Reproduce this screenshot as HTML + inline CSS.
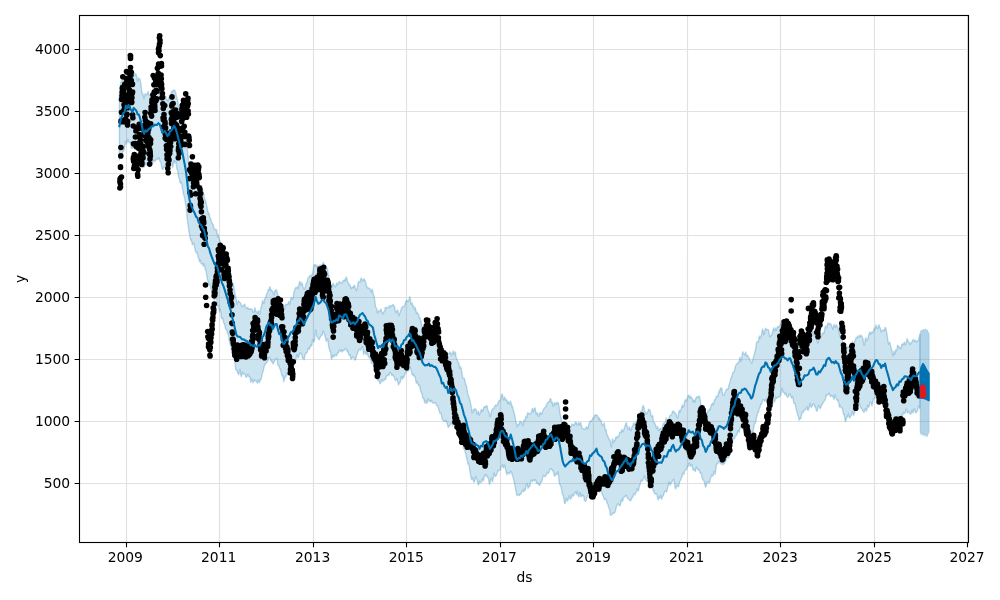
<!DOCTYPE html>
<html lang="en"><head><meta charset="utf-8"><title>Forecast plot</title>
<style>
html,body{margin:0;padding:0;background:#fff;}
body{width:1000px;height:600px;overflow:hidden;}
svg{display:block;}
text{font-family:"DejaVu Sans","Liberation Sans",sans-serif;font-size:13.89px;fill:#000;}
</style></head><body>
<svg width="1000" height="600" viewBox="0 0 1000 600">
<rect width="1000" height="600" fill="#fff"/>
<defs><clipPath id="c"><rect x="79.5" y="15.5" width="889.0" height="527.0"/></clipPath></defs>

<g clip-path="url(#c)">
<path d="M119.4 92.7 120 88.3 120.6 83.2 121.2 81.1 121.8 81.4 122.4 80.3 123 78.7 123.6 77.5 124.2 76.7 124.8 73.9 125.4 73.3 126 74 126.6 75 127.2 74.2 127.8 70.6 128.4 69.4 129 69.3 129.6 72.3 130.2 73.7 130.8 71.9 131.4 73.7 132 77.7 132.6 78.1 133.2 74.1 133.8 72.1 134.4 74.2 135 75.1 135.6 73.7 136.2 74.4 136.8 77.5 137.4 81.4 138 80.1 138.6 77.8 139.2 79.4 139.8 79 140.4 81 141 85 141.6 89.9 142.2 93.7 142.8 93.4 143.4 96.3 144 98.6 144.6 95.2 145.2 93.8 145.8 94.7 146.4 94.3 147 94.7 147.6 92.5 148.2 91.5 148.8 94.4 149.4 95.2 150 95.2 150.6 95.4 151.2 95.2 151.8 92.2 152.4 91.3 153 90.3 153.6 88.3 154.2 87.8 154.8 89.3 155.4 92.7 156 91.2 156.6 91.6 157.2 90.9 157.8 88.6 158.4 88.9 159 87.7 159.6 88.5 160.2 93.6 160.8 94 161.4 94.9 162 97.9 162.6 99.9 163.2 100.1 163.8 98.3 164.4 98 165 97.1 165.6 96.3 166.2 99 166.8 100.5 167.4 99.7 168 101 168.6 98.8 169.2 96.9 169.8 97.5 170.4 96.7 171 94.5 171.6 91.3 172.2 90.6 172.8 92 173.4 91.3 174 89.6 174.6 90.3 175.2 91.2 175.8 92.9 176.4 96.5 177 98.2 177.6 99.7 178.2 105.3 178.8 108.7 179.4 107 180 108.2 180.6 112.4 181.2 115.1 181.8 116 182.4 116.9 183 118.9 183.6 123.3 184.2 127.5 184.8 129.6 185.4 132.5 186 136.4 186.6 142.4 187.2 147.3 187.8 152.6 188.4 159.7 189 164.3 189.6 165 190.2 167.6 190.8 169.5 191.4 170.1 192 171.6 192.6 170.7 193.2 173.2 193.8 176.8 194.4 177.6 195 178.8 195.6 179.7 196.2 179.9 196.8 181.4 197.4 185.2 198 188 198.6 186.9 199.2 187.6 199.8 188.4 200.4 188.1 201 190.4 201.6 191.3 202.2 189.7 202.8 190.4 203.4 193.2 204 195.3 204.6 198.7 205.2 199.8 205.8 201.3 206.4 204.9 207 206.8 207.6 210.1 208.2 213 208.8 212.9 209.4 215.6 210 217.7 210.6 218.2 211.2 221 211.8 222.8 212.4 223.4 213 224.3 213.6 226.3 214.2 228.8 214.8 229.2 215.4 229.2 216 230.6 216.6 229.7 217.2 234 217.8 237.1 218.4 234.4 219 238.1 219.6 240.6 220.2 241.1 220.8 244.9 221.4 245.7 222 246.2 222.6 247.9 223.2 249.8 223.8 250.4 224.4 250.9 225 254.4 225.6 258.8 226.2 261.6 226.8 264.2 227.4 266.1 228 265.5 228.6 266.8 229.2 267.5 229.8 269 230.4 272.3 231 275.9 231.6 280.2 232.2 282 232.8 283.1 233.4 284.4 234 287.3 234.6 291.9 235.2 295.2 235.8 296.5 236.4 300.6 237 304.3 237.6 302.6 238.2 301 238.8 300.9 239.4 301.9 240 302.5 240.6 303.3 241.2 304.8 241.8 306.2 242.4 306.9 243 305.5 243.6 304.9 244.2 304.8 244.8 304.2 245.4 307.1 246 307.5 246.6 307.8 247.2 308.4 247.8 307.2 248.4 309.2 249 309 249.6 308.6 250.2 309.1 250.8 308.9 251.4 309.1 252 309.1 252.6 311.5 253.2 312.4 253.8 312.5 254.4 309.4 255 307.7 255.6 311.6 256.2 311.5 256.8 312.2 257.4 313.2 258 311.2 258.6 310.7 259.2 314.3 259.8 314.2 260.4 310.2 261 307.8 261.6 305.6 262.2 302.5 262.8 300.5 263.4 303.2 264 303.1 264.6 299.6 265.2 297.9 265.8 297.2 266.4 294.7 267 293.6 267.6 292.7 268.2 289.7 268.8 290.3 269.4 288.2 270 286.6 270.6 290 271.2 289.8 271.8 290.1 272.4 291.7 273 291.9 273.6 294.5 274.2 294.9 274.8 290.7 275.4 290.4 276 289.7 276.6 290.1 277.2 292.7 277.8 295.7 278.4 295.6 279 296.5 279.6 299.5 280.2 298 280.8 300.1 281.4 302.7 282 305.5 282.6 308.6 283.2 309.2 283.8 309.5 284.4 309.6 285 306.3 285.6 304.1 286.2 304.8 286.8 304.6 287.4 304.5 288 303.7 288.6 301.7 289.2 302.1 289.8 304.5 290.4 301.2 291 297.6 291.6 297.7 292.2 298.6 292.8 299.4 293.4 295.7 294 291.7 294.6 290.4 295.2 288.8 295.8 287.4 296.4 288 297 287.1 297.6 287 298.2 288.7 298.8 285.4 299.4 282.1 300 281.4 300.6 284.6 301.2 285 301.8 282.6 302.4 284.2 303 287.2 303.6 287.5 304.2 289.2 304.8 289 305.4 286.6 306 284.2 306.6 282.5 307.2 282.1 307.8 278.5 308.4 277.8 309 277.2 309.6 275.8 310.2 275.2 310.8 276.2 311.4 276.7 312 274.1 312.6 273.6 313.2 270 313.8 264.9 314.4 264.4 315 266.1 315.6 264.7 316.2 264.9 316.8 267 317.4 265.6 318 265.7 318.6 270.1 319.2 269.3 319.8 265 320.4 264.9 321 265.8 321.6 265.7 322.2 264.5 322.8 263.7 323.4 262.4 324 264.3 324.6 269.6 325.2 270.9 325.8 268.3 326.4 268.3 327 267.9 327.6 269.2 328.2 274.2 328.8 275.3 329.4 279.1 330 283.7 330.6 286.8 331.2 288.7 331.8 287.8 332.4 285.3 333 283.3 333.6 284.3 334.2 285.6 334.8 286 335.4 287 336 285.4 336.6 283 337.2 284.3 337.8 284.4 338.4 283.3 339 281.5 339.6 282.4 340.2 282.6 340.8 282.4 341.4 282.8 342 283.3 342.6 281.9 343.2 280.6 343.8 280.6 344.4 279.5 345 281 345.6 279.3 346.2 277 346.8 278.2 347.4 281.5 348 282.3 348.6 283.3 349.2 284.9 349.8 284.7 350.4 286.5 351 288.5 351.6 288.1 352.2 287 352.8 287.5 353.4 287.6 354 285.3 354.6 285.6 355.2 288.3 355.8 289.1 356.4 290.5 357 289.2 357.6 285.9 358.2 282.7 358.8 281.4 359.4 282.2 360 282.4 360.6 279.8 361.2 278 361.8 279.1 362.4 280.8 363 281 363.6 279.2 364.2 279 364.8 280.1 365.4 281.1 366 283.6 366.6 286.6 367.2 287.1 367.8 288.1 368.4 288 369 288.2 369.6 288.8 370.2 289 370.8 291.4 371.4 292 372 289.2 372.6 290.4 373.2 293.7 373.8 295.1 374.4 297.6 375 302.4 375.6 307.2 376.2 307.7 376.8 309 377.4 312.8 378 312.4 378.6 310.7 379.2 311.4 379.8 311.5 380.4 309.8 381 309 381.6 311.4 382.2 312.9 382.8 314.1 383.4 312.6 384 311.5 384.6 311.6 385.2 307.7 385.8 307.5 386.4 308.2 387 307.4 387.6 307.3 388.2 307.8 388.8 307.8 389.4 305.6 390 306.1 390.6 306.9 391.2 305.5 391.8 305.8 392.4 305.6 393 304.4 393.6 305.2 394.2 306 394.8 307.8 395.4 312.5 396 312.7 396.6 310.8 397.2 310.5 397.8 310.1 398.4 313.6 399 315.9 399.6 313.5 400.2 312.3 400.8 310.6 401.4 308.2 402 307.3 402.6 306.4 403.2 306.5 403.8 306.7 404.4 305.9 405 304.6 405.6 301.9 406.2 300.9 406.8 300.3 407.4 300.8 408 301.8 408.6 300.7 409.2 299 409.8 296.8 410.4 299 411 304 411.6 303.3 412.2 303.2 412.8 306.5 413.4 305.8 414 307.6 414.6 309.5 415.2 307.4 415.8 310.2 416.4 313 417 312 417.6 313.8 418.2 313.6 418.8 315.8 419.4 318.1 420 317.7 420.6 320.1 421.2 322.2 421.8 325.8 422.4 326.4 423 327.7 423.6 329.7 424.2 329.3 424.8 330.1 425.4 329.7 426 328.8 426.6 330.8 427.2 331.5 427.8 331.4 428.4 331.6 429 329 429.6 326.9 430.2 327.7 430.8 330 431.4 330.7 432 329.9 432.6 331.3 433.2 330.7 433.8 328.6 434.4 330.9 435 335 435.6 335.8 436.2 333 436.8 334 437.4 336.8 438 338.2 438.6 338.6 439.2 338.3 439.8 340.3 440.4 343 441 346.7 441.6 350.8 442.2 349.3 442.8 346.9 443.4 348.5 444 350.2 444.6 351.8 445.2 353.4 445.8 353.8 446.4 354.9 447 354.5 447.6 353.7 448.2 353.8 448.8 353.5 449.4 353.4 450 351.7 450.6 353 451.2 355.2 451.8 354.5 452.4 353.4 453 351.6 453.6 351 454.2 354.6 454.8 352.9 455.4 352.1 456 356.7 456.6 358.6 457.2 359.4 457.8 361.7 458.4 362.2 459 363.7 459.6 368.4 460.2 368.2 460.8 366.7 461.4 369.3 462 373.4 462.6 376.8 463.2 378.6 463.8 378.6 464.4 378.4 465 381.1 465.6 384.7 466.2 385.3 466.8 387.4 467.4 391.5 468 395 468.6 395.8 469.2 397.6 469.8 400.3 470.4 402.2 471 405.5 471.6 408.9 472.2 413 472.8 412 473.4 409.4 474 410.7 474.6 409 475.2 408.8 475.8 409.2 476.4 410.7 477 414.1 477.6 413.3 478.2 411.2 478.8 413.4 479.4 415.2 480 412.8 480.6 412.1 481.2 409.7 481.8 409.3 482.4 411.7 483 410.4 483.6 408.5 484.2 406.6 484.8 406.6 485.4 407.4 486 406.3 486.6 405.3 487.2 406.5 487.8 410 488.4 411.1 489 412.5 489.6 415.3 490.2 416.8 490.8 414.6 491.4 411.6 492 409.9 492.6 409.1 493.2 408.7 493.8 408.4 494.4 407 495 405.9 495.6 404.9 496.2 405.6 496.8 405.8 497.4 404.4 498 403.5 498.6 401.6 499.2 400.4 499.8 400.9 500.4 400.5 501 397.3 501.6 394.6 502.2 393.9 502.8 396.1 503.4 399.7 504 398.6 504.6 396.9 505.2 399.3 505.8 400.4 506.4 399.3 507 400.6 507.6 403.5 508.2 401.9 508.8 401.4 509.4 404.2 510 403.9 510.6 401.2 511.2 403.6 511.8 406.9 512.4 405.9 513 408.7 513.6 410.8 514.2 413.3 514.8 415.8 515.4 418.6 516 422 516.6 424.2 517.2 426.9 517.8 425.4 518.4 424 519 424.4 519.6 422.2 520.2 420.9 520.8 422.5 521.4 422.2 522 422.6 522.6 425.7 523.2 424.2 523.8 420.4 524.4 420.1 525 420.7 525.6 417.2 526.2 416.2 526.8 417.7 527.4 413.7 528 412.6 528.6 413.8 529.2 414.3 529.8 413.8 530.4 413.8 531 413.2 531.6 411.6 532.2 408.7 532.8 408.7 533.4 411.7 534 410.3 534.6 408 535.2 408 535.8 412.7 536.4 414.2 537 412.5 537.6 413.4 538.2 415.7 538.8 416.3 539.4 414.3 540 412.6 540.6 412.7 541.2 414.4 541.8 413.4 542.4 411.9 543 410.7 543.6 409 544.2 408.5 544.8 407.5 545.4 407.2 546 406.7 546.6 404.3 547.2 403.3 547.8 402.8 548.4 402.1 549 401.6 549.6 400.8 550.2 398.6 550.8 398.7 551.4 402.6 552 401.8 552.6 403.3 553.2 406.4 553.8 405.3 554.4 402.8 555 403.8 555.6 404.4 556.2 402.3 556.8 403.9 557.4 403.4 558 402.3 558.6 404.1 559.2 407.5 559.8 412.1 560.4 415.5 561 418.3 561.6 420.5 562.2 423.1 562.8 425.4 563.4 429.5 564 432.5 564.6 429.3 565.2 428 565.8 431.3 566.4 430.3 567 427.4 567.6 428.8 568.2 427.5 568.8 427.6 569.4 430 570 427.4 570.6 426.5 571.2 426.3 571.8 423.9 572.4 424.5 573 425.1 573.6 424.3 574.2 425.3 574.8 424.3 575.4 422.1 576 422.1 576.6 423.3 577.2 425.1 577.8 425.1 578.4 423.1 579 422.7 579.6 424.8 580.2 423.4 580.8 422.6 581.4 425.8 582 428.2 582.6 428.4 583.2 428.7 583.8 429.2 584.4 429.3 585 429.2 585.6 428.1 586.2 427.2 586.8 426.8 587.4 428.6 588 428.7 588.6 425.6 589.2 423.5 589.8 421.6 590.4 420.8 591 421.2 591.6 420.8 592.2 420 592.8 418.4 593.4 417.2 594 418.3 594.6 415.8 595.2 414.4 595.8 415.8 596.4 415.1 597 415.6 597.6 415.4 598.2 418.2 598.8 419.8 599.4 417.8 600 420.1 600.6 420.1 601.2 421 601.8 424.1 602.4 425 603 425.6 603.6 424.2 604.2 423 604.8 427.3 605.4 430.4 606 429.4 606.6 433.2 607.2 435 607.8 435.4 608.4 437.8 609 439.2 609.6 439.6 610.2 440.9 610.8 445.2 611.4 447.1 612 442.3 612.6 438.6 613.2 441.4 613.8 442.4 614.4 440.5 615 440.6 615.6 437.7 616.2 436.8 616.8 438.3 617.4 437 618 436.5 618.6 436.3 619.2 434.7 619.8 432.2 620.4 432.6 621 432.6 621.6 429.6 622.2 430.1 622.8 431.9 623.4 431 624 428.9 624.6 427.1 625.2 425.8 625.8 423.4 626.4 422.8 627 425.8 627.6 426.9 628.2 429.4 628.8 428.9 629.4 427 630 429.1 630.6 430.9 631.2 430 631.8 427.3 632.4 426.1 633 425 633.6 422.9 634.2 423.3 634.8 424.9 635.4 424.3 636 421.7 636.6 421.9 637.2 420.6 637.8 414.9 638.4 414.3 639 414.7 639.6 414.2 640.2 412.1 640.8 411 641.4 412.9 642 410.1 642.6 406.7 643.2 405.4 643.8 406.9 644.4 410.2 645 411.6 645.6 412.6 646.2 414 646.8 413.4 647.4 412.7 648 411.3 648.6 409.1 649.2 410.1 649.8 409.8 650.4 411.4 651 415.5 651.6 416.7 652.2 415.6 652.8 416.3 653.4 420.9 654 422.7 654.6 422.7 655.2 424.6 655.8 425.6 656.4 428.1 657 428.4 657.6 426.5 658.2 429.2 658.8 430.8 659.4 429.5 660 428.8 660.6 428.5 661.2 429.6 661.8 429.7 662.4 427 663 424 663.6 423.4 664.2 422.8 664.8 422.8 665.4 421.5 666 418 666.6 418.8 667.2 420.9 667.8 419.7 668.4 419.5 669 418.7 669.6 415.8 670.2 415.7 670.8 415.4 671.4 414.3 672 413.3 672.6 411.5 673.2 411 673.8 412.1 674.4 411.8 675 413.2 675.6 413.7 676.2 414.4 676.8 417.2 677.4 418.2 678 417.1 678.6 413.4 679.2 410.3 679.8 412.3 680.4 411.5 681 409.4 681.6 407.2 682.2 405 682.8 407.3 683.4 406.8 684 404.7 684.6 402 685.2 399.7 685.8 400.7 686.4 401.1 687 398.8 687.6 397.4 688.2 395.3 688.8 395 689.4 397.9 690 396.7 690.6 395.9 691.2 398.3 691.8 397.7 692.4 399 693 401.8 693.6 400.1 694.2 400.1 694.8 402.3 695.4 399.7 696 397.6 696.6 397.7 697.2 396.4 697.8 396.9 698.4 397.3 699 396.1 699.6 396.7 700.2 400.2 700.8 404 701.4 405.2 702 405.8 702.6 407.9 703.2 411.5 703.8 413.4 704.4 412.3 705 413.4 705.6 417.2 706.2 416.1 706.8 413.3 707.4 412.7 708 410.7 708.6 410.9 709.2 409.2 709.8 409 710.4 409.5 711 405.2 711.6 405 712.2 403.6 712.8 403 713.4 405 714 402.3 714.6 399.5 715.2 399.9 715.8 398.4 716.4 396.2 717 396.2 717.6 396.7 718.2 394.4 718.8 391.4 719.4 392.5 720 389 720.6 388 721.2 389.2 721.8 387.9 722.4 392.5 723 395.3 723.6 395.4 724.2 394.9 724.8 393 725.4 392 726 390 726.6 389.6 727.2 389 727.8 389.5 728.4 387.6 729 384.9 729.6 383.2 730.2 381.4 730.8 378.3 731.4 377.2 732 376.1 732.6 373.2 733.2 372.1 733.8 372 734.4 371.5 735 368.2 735.6 365.6 736.2 364.7 736.8 364.3 737.4 363.2 738 362.5 738.6 362.8 739.2 361.3 739.8 357.5 740.4 358.3 741 361.4 741.6 357.9 742.2 354 742.8 351.8 743.4 353 744 354 744.6 355 745.2 353.6 745.8 352 746.4 356 747 356.1 747.6 355.1 748.2 356.6 748.8 358 749.4 358.3 750 359.8 750.6 360.9 751.2 362 751.8 363.2 752.4 361.7 753 359.1 753.6 356.6 754.2 355.1 754.8 352.2 755.4 350.1 756 346.4 756.6 342.3 757.2 341.6 757.8 341.6 758.4 341.9 759 337.8 759.6 336 760.2 338.1 760.8 337.1 761.4 334.7 762 332 762.6 329 763.2 330.9 763.8 334.8 764.4 333 765 329.8 765.6 328.2 766.2 328.9 766.8 330 767.4 329.6 768 329.5 768.6 330.4 769.2 333.5 769.8 336.6 770.4 336.5 771 335.6 771.6 335.3 772.2 332.8 772.8 331.3 773.4 328.9 774 327.7 774.6 330.9 775.2 330.7 775.8 328.2 776.4 330.3 777 327.9 777.6 326.7 778.2 327.6 778.8 326.2 779.4 326.5 780 324.9 780.6 322.9 781.2 323.1 781.8 323.2 782.4 320.7 783 320.2 783.6 319.9 784.2 322.2 784.8 323.1 785.4 322.4 786 326 786.6 327.2 787.2 325.3 787.8 323.7 788.4 322.8 789 324.1 789.6 325.1 790.2 323.9 790.8 327.8 791.4 328.5 792 326.5 792.6 328.3 793.2 330.7 793.8 333.1 794.4 334.2 795 336.6 795.6 339.2 796.2 339.5 796.8 337.7 797.4 340.9 798 344.7 798.6 345.1 799.2 347.5 799.8 346.1 800.4 344.4 801 344.9 801.6 344.6 802.2 344.1 802.8 342.9 803.4 341.5 804 340 804.6 339 805.2 340.3 805.8 340.1 806.4 337.8 807 337.6 807.6 338.8 808.2 339.8 808.8 338.7 809.4 335.8 810 333.8 810.6 336.1 811.2 336 811.8 332.2 812.4 332.6 813 331.2 813.6 331.8 814.2 335.3 814.8 336 815.4 336.3 816 336.8 816.6 339.8 817.2 341.7 817.8 343.1 818.4 342.3 819 336.3 819.6 335.1 820.2 336.5 820.8 336.7 821.4 336.1 822 334.7 822.6 333.6 823.2 332.7 823.8 333.5 824.4 331.5 825 327.4 825.6 325.8 826.2 327.9 826.8 327.8 827.4 324.9 828 322.8 828.6 323.6 829.2 324.4 829.8 323.5 830.4 323.6 831 324.6 831.6 325.8 832.2 327.2 832.8 329.3 833.4 327.1 834 324.5 834.6 326.4 835.2 327.4 835.8 325.2 836.4 324.8 837 326.3 837.6 327.4 838.2 328.2 838.8 330.2 839.4 333.6 840 336.3 840.6 337.8 841.2 338.8 841.8 338.8 842.4 339.5 843 343.2 843.6 345.8 844.2 347 844.8 348.3 845.4 349.1 846 350.1 846.6 348 847.2 346.8 847.8 347.1 848.4 347.4 849 346.7 849.6 345.8 850.2 345.7 850.8 345.1 851.4 345.5 852 343.6 852.6 341.7 853.2 342.9 853.8 344.4 854.4 342.8 855 340.5 855.6 339.4 856.2 337.5 856.8 337.3 857.4 337.8 858 335.9 858.6 336.9 859.2 336.7 859.8 335.2 860.4 336.5 861 335.2 861.6 336 862.2 337.2 862.8 338.1 863.4 341.7 864 345.1 864.6 344.8 865.2 339.8 865.8 337.6 866.4 340.2 867 340.1 867.6 339.6 868.2 337.8 868.8 334.3 869.4 332.7 870 332.1 870.6 334.2 871.2 333 871.8 332.1 872.4 332.9 873 332 873.6 330.2 874.2 328.2 874.8 329.8 875.4 327.4 876 325 876.6 327.7 877.2 327.3 877.8 328.6 878.4 326 879 324.7 879.6 327.2 880.2 328 880.8 330.5 881.4 332 882 330.5 882.6 330.4 883.2 329.9 883.8 330.2 884.4 331 885 327.4 885.6 327.7 886.2 330 886.8 332.8 887.4 336.8 888 341.3 888.6 344 889.2 343.2 889.8 342 890.4 345.3 891 347.8 891.6 349.4 892.2 352 892.8 356 893.4 354.4 894 351.1 894.6 354.5 895.2 353.2 895.8 349.6 896.4 351 897 348.9 897.6 345.1 898.2 345.8 898.8 346.9 899.4 347.9 900 347.2 900.6 348.7 901.2 347.8 901.8 344.5 902.4 343.9 903 344.8 903.6 344.6 904.2 342.1 904.8 343.3 905.4 344.9 906 343.9 906.6 340.9 907.2 338.6 907.8 340.5 908.4 342.1 909 342.4 909.6 342.9 910.2 344.5 910.8 343.6 911.4 342.5 912 342 912.6 340.2 913.2 339.6 913.8 340.3 914.4 341.2 915 340.1 915.6 340.5 916.2 342 916.8 342.2 917.4 341 918 340.5 918.6 340.1 919.2 336.8 919.8 334.2 L919.8 408.3 919.2 407.8 918.6 405.9 918 408.6 917.4 410.8 916.8 411.4 916.2 412.9 915.6 412.6 915 410.8 914.4 408.8 913.8 408.9 913.2 412.8 912.6 412.1 912 410.2 911.4 412.9 910.8 414.2 910.2 413.9 909.6 412.5 909 411.9 908.4 411.9 907.8 413 907.2 412.5 906.6 409.2 906 409.5 905.4 411.9 904.8 413.5 904.2 413.2 903.6 412.3 903 414.3 902.4 415.8 901.8 414.8 901.2 415.8 900.6 417.2 900 417.1 899.4 416.9 898.8 417.8 898.2 417.3 897.6 416.3 897 418.9 896.4 420 895.8 422.3 895.2 423.2 894.6 419.5 894 420.1 893.4 421.3 892.8 421.2 892.2 421.6 891.6 420.7 891 420.6 890.4 421.2 889.8 418.3 889.2 413.6 888.6 409.6 888 407.5 887.4 406.7 886.8 403.7 886.2 402 885.6 402.9 885 401.6 884.4 400.6 883.8 403.8 883.2 403.4 882.6 399.2 882 398.7 881.4 399.5 880.8 401.5 880.2 400.3 879.6 398.7 879 399.1 878.4 398 877.8 397.6 877.2 395.1 876.6 393.1 876 394.8 875.4 397.3 874.8 398.1 874.2 398.2 873.6 399.5 873 400.3 872.4 404.1 871.8 405.9 871.2 402.5 870.6 402.1 870 402.7 869.4 404.9 868.8 407.4 868.2 406.3 867.6 405.4 867 409.3 866.4 411.2 865.8 409.2 865.2 408.9 864.6 410.5 864 412.4 863.4 411.6 862.8 410.7 862.2 409.7 861.6 408.6 861 408.1 860.4 407.1 859.8 404.8 859.2 403.2 858.6 404.5 858 406.5 857.4 405.9 856.8 405.5 856.2 406.6 855.6 409 855 411.9 854.4 412.7 853.8 415.3 853.2 414.6 852.6 411.1 852 412.5 851.4 415.4 850.8 416.2 850.2 417 849.6 418 849 416.4 848.4 413.8 847.8 415.9 847.2 417.2 846.6 417.2 846 420.4 845.4 421.8 844.8 418.5 844.2 414.2 843.6 414.6 843 411.8 842.4 408.6 841.8 407.7 841.2 407.8 840.6 406.4 840 405.9 839.4 407.2 838.8 403.6 838.2 399.8 837.6 400.8 837 400.1 836.4 399 835.8 397.4 835.2 394.6 834.6 396.3 834 399.5 833.4 397.6 832.8 395.9 832.2 396.6 831.6 395.3 831 395.4 830.4 396.6 829.8 394.8 829.2 393.1 828.6 394.4 828 394.1 827.4 395.1 826.8 395.8 826.2 395.1 825.6 398.2 825 400.1 824.4 400.5 823.8 402 823.2 402.5 822.6 404 822 404.9 821.4 405.4 820.8 407.7 820.2 408.7 819.6 407.3 819 405.6 818.4 405.3 817.8 408.5 817.2 410.9 816.6 411.2 816 409.2 815.4 406.7 814.8 406.9 814.2 404.4 813.6 403.7 813 404.8 812.4 405.2 811.8 406.7 811.2 407.6 810.6 405.5 810 403.4 809.4 406.2 808.8 408.5 808.2 410.2 807.6 410 807 406.9 806.4 408 805.8 409.3 805.2 409.6 804.6 410.3 804 410.4 803.4 412.2 802.8 411.6 802.2 412.4 801.6 414.8 801 417.9 800.4 418.9 799.8 418.8 799.2 420.3 798.6 417.2 798 415.8 797.4 414.2 796.8 411.4 796.2 409.2 795.6 406.4 795 403.4 794.4 403.1 793.8 403.2 793.2 399.3 792.6 396.5 792 397.6 791.4 397.9 790.8 396.2 790.2 394.1 789.6 393.8 789 394.8 788.4 396.4 787.8 397.4 787.2 396.5 786.6 396 786 393.1 785.4 393.8 784.8 394.4 784.2 392.1 783.6 392.6 783 392.1 782.4 388.6 781.8 388.5 781.2 392.9 780.6 395.4 780 396.1 779.4 397 778.8 397.4 778.2 397.3 777.6 397.3 777 398.3 776.4 398.5 775.8 397 775.2 399.6 774.6 402 774 400 773.4 400.2 772.8 403.1 772.2 405.3 771.6 403.8 771 404 770.4 406.3 769.8 405.4 769.2 403.6 768.6 402.1 768 404 767.4 401.8 766.8 399 766.2 399 765.6 399.3 765 401.4 764.4 400.9 763.8 399.9 763.2 399.8 762.6 400 762 402.7 761.4 404.4 760.8 404 760.2 407 759.6 407.7 759 409.7 758.4 412.6 757.8 412.3 757.2 415.1 756.6 417.1 756 419.9 755.4 422.9 754.8 423.6 754.2 424.9 753.6 428.3 753 432.2 752.4 433 751.8 432.1 751.2 433.6 750.6 433.5 750 431.4 749.4 429.7 748.8 428.2 748.2 425 747.6 424.2 747 425.6 746.4 425.4 745.8 424.3 745.2 424.9 744.6 425.1 744 422.9 743.4 424.4 742.8 425.4 742.2 425.7 741.6 427.9 741 427.4 740.4 426.6 739.8 429.1 739.2 432.3 738.6 431.4 738 430.7 737.4 432.7 736.8 435 736.2 435.6 735.6 435.6 735 437.5 734.4 438.9 733.8 438.5 733.2 438.1 732.6 441.1 732 442.7 731.4 445.7 730.8 450.4 730.2 451.3 729.6 453 729 456.7 728.4 458.1 727.8 457.5 727.2 457.2 726.6 458.3 726 460.7 725.4 461.5 724.8 462.8 724.2 464.1 723.6 463.5 723 463.3 722.4 464.9 721.8 463.7 721.2 460.9 720.6 463.8 720 462.8 719.4 460.9 718.8 461.3 718.2 462.5 717.6 464.1 717 463.6 716.4 464.7 715.8 469.6 715.2 474.3 714.6 471.9 714 471.3 713.4 474.6 712.8 476 712.2 475.8 711.6 475.1 711 477.2 710.4 478.5 709.8 481.6 709.2 483.2 708.6 481.6 708 481.6 707.4 482.2 706.8 483.5 706.2 485.8 705.6 487.3 705 485.2 704.4 482 703.8 480.8 703.2 480 702.6 479.3 702 477.9 701.4 473.7 700.8 472.9 700.2 473.3 699.6 471.8 699 469.4 698.4 469.9 697.8 469.7 697.2 468 696.6 467 696 468.5 695.4 471.4 694.8 471 694.2 469.2 693.6 469.7 693 470.1 692.4 466.3 691.8 464.5 691.2 465.4 690.6 466.4 690 465.1 689.4 462.9 688.8 464.1 688.2 466.4 687.6 466.1 687 468.4 686.4 469.8 685.8 469.4 685.2 470 684.6 471 684 474.2 683.4 473.4 682.8 473.7 682.2 476.6 681.6 477.4 681 479 680.4 480.5 679.8 481.3 679.2 483.7 678.6 486.7 678 486.4 677.4 485.5 676.8 485.8 676.2 487.7 675.6 489 675 487 674.4 481.9 673.8 479.3 673.2 480 672.6 480.4 672 481.9 671.4 483.2 670.8 483.6 670.2 485.4 669.6 484.2 669 481.7 668.4 484.4 667.8 487.2 667.2 490.1 666.6 492 666 491.1 665.4 490.9 664.8 491.7 664.2 492.5 663.6 494.9 663 496.3 662.4 496.2 661.8 499 661.2 498.1 660.6 495.1 660 498.1 659.4 498 658.8 497.1 658.2 500.1 657.6 498.4 657 494.6 656.4 493.8 655.8 493.7 655.2 493.8 654.6 493.8 654 491.1 653.4 491.2 652.8 489.3 652.2 484.5 651.6 483.9 651 484.9 650.4 483 649.8 480.1 649.2 478.8 648.6 480.2 648 482.5 647.4 481.1 646.8 481.1 646.2 480.1 645.6 479.8 645 477.9 644.4 475.6 643.8 478.1 643.2 479.1 642.6 480.3 642 481.4 641.4 480.3 640.8 481 640.2 484.6 639.6 485.3 639 487.9 638.4 491.1 637.8 489.7 637.2 488.8 636.6 491.1 636 493 635.4 493.3 634.8 494.9 634.2 493.9 633.6 494.2 633 496.8 632.4 497 631.8 498.4 631.2 499.7 630.6 500.7 630 500.8 629.4 499.6 628.8 499.4 628.2 498.7 627.6 498.2 627 497 626.4 495.4 625.8 495.5 625.2 496.3 624.6 497.1 624 497.1 623.4 498.2 622.8 500.8 622.2 501.6 621.6 499.2 621 501.6 620.4 505 619.8 505.8 619.2 505.5 618.6 504.1 618 503.9 617.4 504.4 616.8 505.8 616.2 507.1 615.6 510.4 615 512.3 614.4 512.8 613.8 513.5 613.2 513.2 612.6 513.6 612 514.4 611.4 514.6 610.8 515.5 610.2 514.2 609.6 509.5 609 508.3 608.4 506.7 607.8 504.2 607.2 503.4 606.6 501 606 499.1 605.4 499.6 604.8 499.6 604.2 499.4 603.6 497.3 603 495.4 602.4 495 601.8 492.3 601.2 491.2 600.6 490.6 600 491.7 599.4 492.3 598.8 490.5 598.2 488.6 597.6 487.4 597 486.1 596.4 484.5 595.8 485.7 595.2 488.4 594.6 487.1 594 483.6 593.4 484.7 592.8 488.4 592.2 489.9 591.6 490.4 591 490.4 590.4 490.5 589.8 491.1 589.2 491.7 588.6 493.3 588 494.9 587.4 496.3 586.8 497.6 586.2 500.2 585.6 501.5 585 501 584.4 500.1 583.8 496.3 583.2 495.3 582.6 496.2 582 494.7 581.4 496.3 580.8 496.8 580.2 492.8 579.6 493.3 579 496.6 578.4 496.8 577.8 493.1 577.2 491.3 576.6 494.5 576 493.6 575.4 491.9 574.8 492.9 574.2 493.8 573.6 495.8 573 496.1 572.4 494.4 571.8 496.4 571.2 498.1 570.6 499.3 570 497.4 569.4 495.6 568.8 498.5 568.2 499.2 567.6 501.2 567 500.2 566.4 498.1 565.8 500.9 565.2 503.6 564.6 503.4 564 500.1 563.4 496 562.8 494.8 562.2 493.6 561.6 489.5 561 486.6 560.4 485.8 559.8 484.2 559.2 482.6 558.6 476.5 558 471.7 557.4 474 556.8 474.4 556.2 473.3 555.6 474.5 555 476 554.4 476.1 553.8 473.7 553.2 470.5 552.6 470.8 552 469.9 551.4 468.6 550.8 469.1 550.2 469 549.6 470.2 549 472.4 548.4 473.3 547.8 472.2 547.2 472.7 546.6 474.6 546 475.3 545.4 476.5 544.8 476.6 544.2 476.1 543.6 475.3 543 476.3 542.4 479.2 541.8 481.7 541.2 482 540.6 482.9 540 484.9 539.4 485.4 538.8 484.7 538.2 483.5 537.6 482.8 537 483.5 536.4 483.2 535.8 480.3 535.2 479.5 534.6 480.7 534 480.4 533.4 479.9 532.8 480.9 532.2 481.5 531.6 479.9 531 480.3 530.4 483.4 529.8 486.4 529.2 486.3 528.6 487.5 528 488.2 527.4 484.6 526.8 483.6 526.2 485.3 525.6 488.9 525 490.4 524.4 488.9 523.8 491.7 523.2 491.4 522.6 490.3 522 491.3 521.4 492.7 520.8 494.2 520.2 493.9 519.6 495.4 519 495.3 518.4 494.5 517.8 494.6 517.2 495.8 516.6 494.6 516 490.9 515.4 487.1 514.8 485.1 514.2 481.5 513.6 479.3 513 477.1 512.4 475.4 511.8 473.4 511.2 471.5 510.6 471.3 510 473 509.4 474 508.8 473.1 508.2 472.5 507.6 472.7 507 474.7 506.4 473 505.8 470.4 505.2 467.9 504.6 465.1 504 466.9 503.4 467.9 502.8 464.8 502.2 466.6 501.6 466 501 466.7 500.4 470.1 499.8 469.8 499.2 470.3 498.6 470.7 498 470.4 497.4 472.4 496.8 474.1 496.2 475.3 495.6 476.6 495 476.1 494.4 474.1 493.8 473.1 493.2 478.4 492.6 481.8 492 480.1 491.4 478.1 490.8 479.4 490.2 482.5 489.6 484.6 489 482.1 488.4 478.1 487.8 477.4 487.2 477.2 486.6 475.1 486 474.3 485.4 476 484.8 475.2 484.2 476.6 483.6 480.7 483 480.2 482.4 478.8 481.8 481.6 481.2 482.4 480.6 482.3 480 482.6 479.4 481.2 478.8 484.1 478.2 485 477.6 481.4 477 479.9 476.4 478.1 475.8 476.5 475.2 478.6 474.6 481 474 482.2 473.4 480.8 472.8 477.7 472.2 479.2 471.6 479.6 471 476.8 470.4 473.6 469.8 470.5 469.2 466.1 468.6 464 468 464.1 467.4 460.4 466.8 458.9 466.2 455.9 465.6 453.6 465 451.7 464.4 447.9 463.8 449 463.2 446.3 462.6 442.2 462 443.3 461.4 441.5 460.8 439.2 460.2 437.3 459.6 434.7 459 434.9 458.4 434.3 457.8 432.6 457.2 430.5 456.6 429 456 426.9 455.4 424.8 454.8 423.6 454.2 423.9 453.6 422.3 453 423.9 452.4 425.8 451.8 423.1 451.2 423.2 450.6 423 450 425.2 449.4 426.4 448.8 426.1 448.2 427.5 447.6 425 447 423.6 446.4 421.3 445.8 420.1 445.2 421.3 444.6 421.1 444 421.5 443.4 420.5 442.8 420 442.2 419.4 441.6 416 441 413.6 440.4 413 439.8 413 439.2 410.9 438.6 409 438 407.2 437.4 405.7 436.8 405.6 436.2 404.6 435.6 403.2 435 402.9 434.4 402.6 433.8 403.2 433.2 403.1 432.6 402.6 432 401.9 431.4 400.1 430.8 402.1 430.2 401.2 429.6 400.2 429 401.5 428.4 398.9 427.8 399 427.2 402.7 426.6 403.5 426 400.9 425.4 401.2 424.8 403.2 424.2 400.5 423.6 398 423 398.4 422.4 396.2 421.8 393.5 421.2 392.2 420.6 390.9 420 387.7 419.4 385 418.8 385.7 418.2 384.5 417.6 382 417 382.8 416.4 383.3 415.8 381 415.2 377.2 414.6 375.9 414 376.4 413.4 374.3 412.8 375.2 412.2 374.9 411.6 372 411 370.1 410.4 367.7 409.8 366.4 409.2 367.7 408.6 370.9 408 371 407.4 370.6 406.8 371.2 406.2 372.2 405.6 373.5 405 373.5 404.4 375.8 403.8 377.4 403.2 376.2 402.6 379 402 378.9 401.4 376.7 400.8 379.6 400.2 382.4 399.6 382.8 399 384 398.4 384.9 397.8 382.2 397.2 379 396.6 379 396 380.2 395.4 380.6 394.8 378.9 394.2 377 393.6 376.4 393 374.7 392.4 375.2 391.8 375.5 391.2 373.5 390.6 373 390 372.4 389.4 373.7 388.8 375.6 388.2 374.5 387.6 375.2 387 376.2 386.4 376.1 385.8 379.2 385.2 379.4 384.6 379.2 384 380.8 383.4 380.6 382.8 381.4 382.2 379.6 381.6 379.6 381 382.3 380.4 383.7 379.8 383.3 379.2 381.1 378.6 379.4 378 380.8 377.4 379.9 376.8 378.2 376.2 374.2 375.6 371.6 375 370.1 374.4 367.4 373.8 367.1 373.2 364.5 372.6 361.9 372 362.8 371.4 363.3 370.8 360.1 370.2 357.4 369.6 358.1 369 357.3 368.4 356.7 367.8 355 367.2 352.7 366.6 354.5 366 354.2 365.4 352.7 364.8 351.5 364.2 352.8 363.6 354.4 363 349.3 362.4 346.6 361.8 347.7 361.2 348.6 360.6 350.2 360 349.7 359.4 349.2 358.8 349.7 358.2 351.4 357.6 353.1 357 354.6 356.4 356.2 355.8 359 355.2 360.3 354.6 358.6 354 358.2 353.4 357.8 352.8 357 352.2 357.1 351.6 358.5 351 358.9 350.4 356.7 349.8 354.7 349.2 355.2 348.6 353.9 348 351.1 347.4 352 346.8 350.6 346.2 348.7 345.6 348.8 345 349.1 344.4 350.1 343.8 350.4 343.2 350.3 342.6 351.7 342 351.7 341.4 349.5 340.8 350.5 340.2 351.2 339.6 350.2 339 350.4 338.4 352.9 337.8 353 337.2 353.8 336.6 355.7 336 354.7 335.4 355.2 334.8 355 334.2 357 333.6 356.5 333 355.2 332.4 356.3 331.8 359.2 331.2 357.7 330.6 351.9 330 351.6 329.4 349.4 328.8 347 328.2 342.8 327.6 338.6 327 339.6 326.4 341.2 325.8 340.2 325.2 336.5 324.6 333.8 324 333.2 323.4 331.2 322.8 332.2 322.2 335.1 321.6 334.7 321 335.5 320.4 337.2 319.8 337.7 319.2 339.8 318.6 339.3 318 337.5 317.4 336.6 316.8 336.5 316.2 333.1 315.6 330 315 335.5 314.4 341 313.8 342.2 313.2 339.9 312.6 339.5 312 344.3 311.4 346.3 310.8 344.8 310.2 346 309.6 349.1 309 349 308.4 347.9 307.8 350.5 307.2 352.2 306.6 353 306 353.6 305.4 353.3 304.8 355.8 304.2 359.7 303.6 358.1 303 358.5 302.4 358.6 301.8 354.5 301.2 353.2 300.6 353.8 300 352.8 299.4 353.9 298.8 357 298.2 357.9 297.6 356.8 297 354.5 296.4 356.9 295.8 360.7 295.2 360.1 294.6 361.7 294 363.4 293.4 367.5 292.8 368.3 292.2 364.5 291.6 367.1 291 368.1 290.4 368.6 289.8 372.7 289.2 374.2 288.6 372.7 288 374.2 287.4 374.7 286.8 373.3 286.2 375.3 285.6 377.3 285 377 284.4 378.9 283.8 381.8 283.2 378.4 282.6 375.5 282 376 281.4 373.4 280.8 371.4 280.2 369 279.6 368.3 279 366.5 278.4 364.6 277.8 364.9 277.2 359.8 276.6 358 276 358.7 275.4 359.3 274.8 360.4 274.2 361.7 273.6 363.2 273 364 272.4 361.6 271.8 361.2 271.2 361.7 270.6 359 270 358.1 269.4 357.5 268.8 357.4 268.2 359.9 267.6 361.2 267 361.8 266.4 363.1 265.8 363.3 265.2 364.2 264.6 365.4 264 367.1 263.4 370.3 262.8 372.2 262.2 373.8 261.6 377.3 261 379.5 260.4 379.9 259.8 381.6 259.2 382.9 258.6 379.9 258 380.4 257.4 383.1 256.8 382.3 256.2 381.5 255.6 380.8 255 380.6 254.4 379.6 253.8 381.1 253.2 382.9 252.6 381.3 252 379.1 251.4 381.1 250.8 382.3 250.2 377.7 249.6 376.7 249 377 248.4 374.5 247.8 374.3 247.2 375.9 246.6 377.2 246 377.4 245.4 375.2 244.8 373.9 244.2 374.1 243.6 374.2 243 373.3 242.4 372.1 241.8 375 241.2 376.7 240.6 374 240 369.4 239.4 370.7 238.8 374.7 238.2 373.7 237.6 372.7 237 370.8 236.4 369.6 235.8 369.7 235.2 365.1 234.6 359.4 234 358.2 233.4 357.2 232.8 353.3 232.2 351.6 231.6 350.3 231 346.5 230.4 344.7 229.8 343.1 229.2 340.6 228.6 335.4 228 333.7 227.4 333.1 226.8 329.9 226.2 329.6 225.6 328.7 225 326.4 224.4 323.5 223.8 323.1 223.2 320.9 222.6 318 222 318.8 221.4 318.1 220.8 312.2 220.2 309.1 219.6 312 219 308.9 218.4 305.6 217.8 306.4 217.2 302.2 216.6 298.4 216 297.6 215.4 297.6 214.8 299.2 214.2 300.1 213.6 297 213 294.8 212.4 293.8 211.8 292 211.2 289.7 210.6 287.1 210 284.6 209.4 284.4 208.8 284 208.2 281.5 207.6 280.2 207 276.9 206.4 273.1 205.8 270.2 205.2 269.4 204.6 264.8 204 263.7 203.4 266.4 202.8 264.5 202.2 263.6 201.6 264.1 201 263.5 200.4 260.2 199.8 261.9 199.2 260.7 198.6 257.4 198 257.2 197.4 253.4 196.8 252.2 196.2 252.8 195.6 251.5 195 249.5 194.4 246.2 193.8 243.3 193.2 243.4 192.6 244.8 192 243.4 191.4 239.6 190.8 240.5 190.2 238 189.6 234.6 189 232.2 188.4 227.2 187.8 223.5 187.2 217.7 186.6 211.8 186 206.5 185.4 203 184.8 199.1 184.2 196.1 183.6 194.7 183 191.2 182.4 188.2 181.8 184.3 181.2 181.9 180.6 183.5 180 182.5 179.4 178.9 178.8 177.7 178.2 174.8 177.6 170.1 177 169.6 176.4 165.3 175.8 161.1 175.2 162.4 174.6 163.1 174 160.7 173.4 163.2 172.8 167.5 172.2 166.4 171.6 162 171 160.6 170.4 161.9 169.8 164.1 169.2 167.4 168.6 169.3 168 171 167.4 171.3 166.8 168.6 166.2 167.2 165.6 168 165 166.7 164.4 166.3 163.8 167.4 163.2 169 162.6 169.6 162 168.7 161.4 165.2 160.8 162.3 160.2 161.8 159.6 159.7 159 157.6 158.4 158.1 157.8 159.4 157.2 159 156.6 158.8 156 159.4 155.4 160.9 154.8 161.6 154.2 160.8 153.6 160.2 153 162.3 152.4 163.3 151.8 161.5 151.2 161.5 150.6 161.6 150 162.4 149.4 163.3 148.8 164.6 148.2 164.7 147.6 165.3 147 165 146.4 163.7 145.8 164.6 145.2 163.7 144.6 165.9 144 167.4 143.4 166.5 142.8 166.2 142.2 161.2 141.6 157.3 141 155.2 140.4 149.6 139.8 149.8 139.2 151 138.6 149.9 138 150.2 137.4 149.8 136.8 148.2 136.2 145 135.6 143.8 135 143.9 134.4 144.3 133.8 144.7 133.2 146.3 132.6 147.4 132 148.4 131.4 148.3 130.8 144.8 130.2 142 129.6 142.3 129 142.5 128.4 140.7 127.8 139.2 127.2 141.9 126.6 144.1 126 141.3 125.4 142 124.8 146.9 124.2 149.2 123.6 151 123 151.5 122.4 153.1 121.8 155.9 121.2 154.6 120.6 154.6 120 156.5 119.4 159.9Z" fill="#0072B2" fill-opacity="0.2" stroke="#0072B2" stroke-opacity="0.26" stroke-width="1.39" stroke-linejoin="round"/>
<path d="M920.0 334 921.0 330 922.0 332 923.1 329 924.1 331 925.1 328.5 926.1 331 927.1 329.5 928.2 332 929.2 333.5 929.2 432 928.2 434 927.1 437 926.1 434 925.1 436.5 924.1 433 923.1 436 922.0 432.5 921.0 435 920.0 431Z" fill="#0072B2" fill-opacity="0.3" stroke="#0072B2" stroke-opacity="0.15" stroke-width="1"/>
<path d="M126.50 15.5V542.5M219.50 15.5V542.5M313.50 15.5V542.5M406.50 15.5V542.5M500.50 15.5V542.5M593.50 15.5V542.5M687.50 15.5V542.5M780.50 15.5V542.5M874.50 15.5V542.5M967.50 15.5V542.5M79.5 483.50H968.5M79.5 421.50H968.5M79.5 359.50H968.5M79.5 297.50H968.5M79.5 235.50H968.5M79.5 173.50H968.5M79.5 111.50H968.5M79.5 49.50H968.5" stroke="#808080" stroke-opacity="0.24" stroke-width="1.15" fill="none"/>
<path d="M119.9 188h0M119.9 181.9h0M120 179.3h0M120.4 178.2h0M120.5 166.9h0M120.8 155.9h0M120.9 147.5h0M121 121.7h0M121.1 120.9h0M121.5 112.2h0M121.5 99.5h0M122 95.8h0M122.1 97.4h0M122.2 92.2h0M122.3 88.3h0M122.8 76.7h0M122.7 87.3h0M123 93.3h0M123 99.1h0M123.5 90.6h0M123.6 111.6h0M123.8 110.2h0M124 104.7h0M124 121.8h0M124.1 120.3h0M124.4 109h0M124.5 106.3h0M124.7 84.4h0M125.2 95.1h0M125.3 99.2h0M125.4 102h0M125.6 119.1h0M125.9 100.3h0M125.9 103.8h0M126.1 83.3h0M126.3 78.8h0M126.5 71.6h0M127 94.7h0M126.7 115h0M127 114.2h0M127.1 123.3h0M127.7 121.4h0M127.5 124.9h0M128 107.8h0M128 86.9h0M128.2 72.6h0M128.5 79.4h0M128.6 100.9h0M128.7 97.8h0M129.2 89.5h0M128.9 103.1h0M129 98.9h0M129.3 94h0M129.7 91.6h0M129.7 83.3h0M130 75.2h0M130.3 55.6h0M130.5 57.3h0M130.6 56.1h0M130.9 75.3h0M130.9 80.3h0M131.3 72.3h0M131.3 80.5h0M131.7 102.4h0M131.8 102h0M131.9 97.7h0M132.2 93.6h0M132.4 84.5h0M132.5 84h0M132.6 92h0M132.6 114.7h0M132.9 117.7h0M133.3 126h0M133.5 143.8h0M133.3 158.9h0M133.5 157.2h0M133.6 161.2h0M133.8 168.5h0M134.3 166.3h0M134.3 154.6h0M134.7 160.3h0M135 161.5h0M134.7 158h0M135.2 143.6h0M135.4 137h0M135.6 127.3h0M135.9 131h0M136.1 146.6h0M136.2 159.3h0M136.1 163.5h0M136.6 165.2h0M137 168.6h0M136.7 165.1h0M137 161.9h0M137.2 156.2h0M137.3 158.1h0M137.6 174.2h0M137.8 176.3h0M138.1 169.7h0M138.1 161.2h0M138.3 148.1h0M138.8 146.6h0M138.8 143.3h0M138.8 126.5h0M138.9 128.6h0M139.2 124.4h0M139.5 134.9h0M139.6 134.7h0M139.6 145.7h0M139.8 136.4h0M140 134.7h0M140.3 139.8h0M140.6 149.3h0M140.9 153.9h0M140.8 143.8h0M140.9 147.8h0M141 150.7h0M141.3 148.6h0M141.6 146.1h0M141.8 164.4h0M142 163h0M142.2 153.6h0M142.3 158.4h0M142.3 156.7h0M142.8 154.6h0M143 157.6h0M143 157.9h0M143.8 152.4h0M143.1 151.1h0M143.4 146.6h0M143.7 135.1h0M143.9 130h0M144.1 128.3h0M144.4 134.1h0M144.7 128.4h0M144.8 117.2h0M145 124.7h0M145.4 120.4h0M145.1 112.6h0M145.5 127.2h0M145.7 128.4h0M145.8 140.2h0M146 140.6h0M146.2 137.6h0M146.3 134h0M146.4 137.5h0M146.6 141.2h0M146.9 140.9h0M147.2 142.1h0M147.4 131.5h0M147.6 135.5h0M147.3 122.4h0M147.8 125h0M147.9 132.4h0M148.3 137.7h0M148.4 146.1h0M148.6 129.6h0M149 137.6h0M148.9 146.9h0M149.2 154h0M149.5 144.5h0M149.6 149.3h0M149.7 164.1h0M150.1 151.2h0M150.2 153.2h0M150.4 156.1h0M150.5 143.4h0M150.7 139.8h0M150.7 123.9h0M150.7 113.3h0M151.1 107h0M151.2 109.7h0M151.6 108.6h0M151.6 116.1h0M151.9 102.6h0M152 100h0M152.3 108.3h0M152.5 110.7h0M152.9 94.7h0M153 100.7h0M153.3 95.3h0M153.3 97.3h0M153.2 98h0M153.8 106.6h0M154.1 102.8h0M153.9 84.8h0M154.4 78.1h0M154.3 92.1h0M154.6 93h0M154.7 105.3h0M154.8 107.4h0M155 100.6h0M155 110.5h0M155.5 99.5h0M155.7 81.3h0M156 100.7h0M156 83.1h0M156.3 90.3h0M156.7 99.1h0M156.7 98.9h0M156.8 81.1h0M157 91.3h0M157.1 77.4h0M157.5 68.3h0M157.4 68.3h0M157.9 77h0M157.9 79.1h0M157.7 84.4h0M158.3 73.2h0M158.4 66.5h0M158.5 52.7h0M158.8 48.1h0M159 50.7h0M159.5 44.1h0M159.4 45.6h0M159.4 37.8h0M159.7 35.7h0M160 40.3h0M160 42.7h0M160.3 55.6h0M160.2 66.1h0M160.5 86h0M160.8 83.4h0M161.1 82.6h0M161.1 75.1h0M161.3 78.8h0M161.6 87.5h0M161.6 84.6h0M161.9 88.8h0M162 97.6h0M162.6 97.2h0M162.4 93.6h0M162.9 104.1h0M162.9 103.7h0M163.3 108.5h0M163.1 117.8h0M163.5 126.7h0M163.3 119.8h0M164 114.5h0M164.1 118.2h0M164.1 119h0M164.7 105.6h0M165 122h0M165 123.4h0M165.1 132.3h0M165.1 123.7h0M165.2 138.3h0M165.2 134.1h0M165.8 135.4h0M165.6 127.9h0M166 132.8h0M166.5 136.6h0M166.4 139.6h0M166.4 145.8h0M166.6 149.3h0M167.1 158.7h0M167 154.9h0M167.2 146.6h0M167.3 149.8h0M167.7 158.2h0M167.8 168.6h0M168.2 172.7h0M168.1 154.1h0M168.4 156.2h0M168.3 164.4h0M169 159.9h0M169.2 151.9h0M169.1 152h0M169.4 144.2h0M169.6 147.1h0M169.9 145.1h0M169.7 153.4h0M170 150.6h0M170.6 139.8h0M170.6 142.2h0M170.7 146.5h0M170.8 137.5h0M171.1 131.9h0M171.3 112.8h0M171.5 123.4h0M171.4 119.4h0M171.8 105.9h0M172 96.9h0M172.2 104.2h0M172.2 115.2h0M172.5 115.8h0M172.5 121.3h0M172.8 111.9h0M173.1 103.5h0M173.3 114.5h0M173.5 119.7h0M173.8 119.7h0M173.8 128.4h0M173.8 117.8h0M174.2 114.7h0M174.3 124.4h0M174.3 135.3h0M174.6 130.4h0M175 138.7h0M175.2 127.4h0M175.3 127.7h0M175.2 123.7h0M175.6 110h0M175.7 115.3h0M176.2 125.3h0M176 124.9h0M176.5 125h0M176.5 137.7h0M176.8 126.1h0M176.8 117.3h0M177.2 116.6h0M177.3 113.5h0M177.5 131.5h0M177.5 136.7h0M177.8 132h0M177.8 131.6h0M178.3 157.8h0M178.4 150.3h0M178.8 143.8h0M178.6 147.8h0M179.2 153.1h0M179.2 153.3h0M179.3 144.3h0M179.6 136.3h0M179.5 142.6h0M179.7 141.9h0M180.3 130.6h0M180 142.7h0M180.5 145.8h0M180.8 140.9h0M180.8 136.5h0M181.2 136.2h0M181.2 128.5h0M181.3 116.9h0M181.7 121.4h0M181.9 109.9h0M181.9 115.3h0M182.3 105.3h0M182.1 108.6h0M182.6 111.7h0M182.6 129.5h0M182.9 118.4h0M183.1 107.4h0M183.3 106h0M183.5 100.4h0M183.8 102.2h0M184 108h0M184 114.3h0M184.2 126.2h0M184.2 116.1h0M184.8 136.4h0M184.9 144.4h0M184.8 132.3h0M185.1 107.1h0M185.5 108.8h0M185.3 112.9h0M185.7 93.8h0M185.8 102.9h0M186 106.9h0M186.2 101.7h0M186.1 109.5h0M186.7 117.3h0M186.7 110.4h0M187 110.9h0M186.9 105.6h0M187.7 100.8h0M187.6 105.9h0M187.4 113.8h0M187.8 111.5h0M188 98.3h0M188.1 111.1h0M188.2 103.8h0M188.4 114h0M188.6 136h0M189 137.5h0M189.2 140.2h0M189.5 145.4h0M189.5 169.7h0M189.4 178.6h0M189.9 192.4h0M190.2 205.4h0M190.1 210.1h0M190.5 206.4h0M190.7 194.9h0M190.7 171.4h0M191 164.1h0M191 167.9h0M191.6 169.2h0M191.6 173h0M191.7 171h0M192 172.2h0M192.2 177.4h0M192.2 167.7h0M192.3 167.6h0M192.4 156.8h0M192.7 168.4h0M193.2 170.1h0M193.4 172.9h0M193.6 183h0M193.4 186.8h0M193.8 181.7h0M194.1 184.4h0M194.4 170.5h0M194.3 175.6h0M194.5 177.1h0M194.6 165.2h0M194.9 179.5h0M195.2 172.3h0M195.4 178.8h0M195.4 175.9h0M195.8 184.3h0M195.7 193.7h0M196.1 184.2h0M196.4 173.7h0M196.5 175.8h0M196.6 185.1h0M196.7 182.7h0M196.9 179.2h0M197 185.4h0M197.2 166.7h0M197.3 167.9h0M197.8 165h0M197.7 174.4h0M197.9 174.1h0M198.4 169.4h0M198.5 173.3h0M198.8 166.9h0M199 174.8h0M199 174.8h0M199.3 177.4h0M199.2 177.2h0M199.5 187.8h0M200 189.4h0M200 194.4h0M200.1 198.4h0M200.7 193.6h0M200.6 200.5h0M200.4 204.6h0M201 206.6h0M200.6 203h0M201.3 202.4h0M201.4 211.7h0M201.5 226.1h0M201.6 219.1h0M201.9 222.7h0M202.5 218.3h0M202.1 224.4h0M202.4 228.6h0M202.6 235.4h0M202.8 218.3h0M203.3 219.7h0M203.3 217.7h0M203.4 221.3h0M203.7 221.5h0M203.8 223h0M203.9 231.7h0M204.1 244.2h0M204.3 228.4h0M204.5 231.9h0M204.6 236.2h0M204.9 238h0M205.3 238.3h0M205.1 233.6h0M205.5 285h0M205.7 297.3h0M206.6 305.5h0M207.7 331.5h0M207.9 336.7h0M208.4 338.2h0M208.6 344.1h0M208.5 346.9h0M209.2 347.3h0M209.6 348.1h0M209.8 349.8h0M209.9 355.3h0M210.1 355.9h0M210.3 347.4h0M210.4 340.7h0M210.8 341.7h0M210.8 342.6h0M211 337.8h0M211.1 330.8h0M211.3 333h0M211.6 334h0M211.5 330.9h0M212.1 324.5h0M212 325.4h0M212.2 329h0M212.4 319.3h0M212.7 320.3h0M212.9 317.5h0M213.1 312.9h0M213.1 314h0M213.2 307.8h0M213.5 308.4h0M213.7 312h0M213.8 309.8h0M214.3 304h0M214.2 295.8h0M214.4 292.3h0M214.8 287h0M214.8 295.1h0M215 292.9h0M215.1 288.7h0M215.2 283.9h0M215.5 280.8h0M215.5 281h0M216.1 276.9h0M216.2 284.9h0M216.6 279.9h0M216.5 275.5h0M216.6 276.3h0M217 280.4h0M217 282h0M217.4 274.6h0M217.4 271.7h0M217.4 268.1h0M217.8 266.3h0M218 263.7h0M218.3 256.1h0M218.3 249.6h0M218.6 251h0M218.8 249.4h0M218.8 259.1h0M218.9 262.1h0M219.2 260h0M219.2 261.1h0M219.7 259.1h0M219.9 258h0M220 261.2h0M220.1 253.4h0M220.2 245.4h0M220.7 250.4h0M220.9 254.2h0M220.6 258.6h0M221.4 262.7h0M221.6 263.7h0M221.4 269.7h0M221.7 263h0M221.9 260.9h0M222.1 254.6h0M222.2 248.7h0M222.5 250.5h0M222.7 254.1h0M223.2 248.1h0M223 247.5h0M223.1 253.4h0M223.5 261.9h0M223.5 262.1h0M223.8 264.2h0M223.9 260.4h0M224.1 273.8h0M224.2 275.4h0M224.4 278.5h0M224.5 276.9h0M224.8 275.9h0M225.3 272h0M225.2 266h0M225.3 264.6h0M225.4 260.5h0M225.9 264.8h0M225.9 258h0M226.2 254.1h0M226.1 255.7h0M226.2 260.1h0M226.7 259.7h0M226.6 257.9h0M227.1 258.9h0M227.4 260.3h0M227.3 272.2h0M227.5 274.6h0M227.7 275.7h0M227.9 273.2h0M228.1 268.4h0M228.3 270.9h0M228.5 274.9h0M228.7 277.6h0M229 276.7h0M229.2 281.7h0M229.3 280.7h0M229.4 285.9h0M229.7 285.4h0M230 284.6h0M230 290h0M230.2 293.5h0M230.7 303.2h0M230.3 302.8h0M230.9 304.6h0M231 302.3h0M231.3 297.9h0M231.6 296.8h0M231.6 304.2h0M231.6 305.6h0M232 314.7h0M231.9 323h0M232.3 323.4h0M232.3 332h0M232.7 333.2h0M232.5 339.2h0M232.9 339.1h0M233.2 342.6h0M233.3 339.9h0M233.5 344.3h0M233.6 343.7h0M233.9 344.8h0M234.3 348.4h0M234.2 348.9h0M234.3 348.7h0M234.5 352.5h0M234.8 355.2h0M235.1 350.8h0M235.2 353.9h0M235.5 355.4h0M235.8 351.9h0M235.6 354.3h0M236 350.2h0M236.1 356.4h0M236.4 356.4h0M236.6 356.5h0M236.7 359.3h0M236.7 357h0M237 356.4h0M237.2 352.1h0M237.4 349.9h0M237.5 345.1h0M237.8 346h0M238 349.4h0M238.2 350.3h0M238.2 353h0M238.5 349.4h0M238.5 347.3h0M238.8 347.8h0M239.2 351.2h0M239.2 353.5h0M239.4 354.3h0M239.8 356h0M239.7 354.2h0M240 353h0M240 355.6h0M240.5 350.5h0M240.5 350.1h0M240.9 353.2h0M241 351h0M241.1 352.3h0M241.4 349.7h0M241.3 356.4h0M241.6 348.3h0M241.6 345.8h0M242.2 345.1h0M242.3 353.9h0M242.6 356.3h0M242.8 355.7h0M243 350.8h0M242.9 352.3h0M242.9 353.4h0M243.3 351h0M243.8 346.4h0M243.8 344.7h0M244.1 346.6h0M244.2 348.9h0M244.4 350.9h0M244.4 351.7h0M244.5 348.2h0M245 351.4h0M244.9 350.8h0M245.4 353.2h0M245.5 356.8h0M245.7 355.4h0M245.8 352.5h0M245.7 356.6h0M246 357h0M246.4 354.2h0M246.3 345.3h0M246.5 347.4h0M247.1 350.4h0M246.7 354.9h0M247.2 353.6h0M247.5 352.4h0M247.9 352.7h0M247.9 355.7h0M248 352.6h0M247.9 353.6h0M248.3 353.1h0M248.3 355.7h0M248.7 351.5h0M248.7 353.4h0M249.2 351.6h0M249.4 350.7h0M249.4 351.7h0M249.7 354.2h0M249.9 347.4h0M250 349.7h0M250.2 350.3h0M250.5 348.2h0M250.6 351.6h0M250.7 350h0M251 352.1h0M251 347.3h0M251.5 341.5h0M251.6 345.5h0M251.4 350.7h0M251.8 348.6h0M252 347.9h0M252.2 342.8h0M252.5 336.7h0M252.8 335h0M253 339.2h0M252.7 330.5h0M253.3 329.8h0M253.1 323.5h0M253.7 326.2h0M253.8 329.8h0M253.8 325.4h0M254 324.9h0M254.2 330.1h0M254.6 329.9h0M254.5 325.3h0M254.8 321.2h0M255.1 317.5h0M255.4 322.9h0M255.3 321.1h0M255.6 325.5h0M255.6 329.3h0M256.1 326.2h0M255.9 324.5h0M256.3 328.1h0M256.5 328.1h0M256.6 328.7h0M257 323.1h0M257.3 327.4h0M257.2 325.7h0M257.5 319.7h0M257.6 321.4h0M257.9 327.1h0M258.1 336.7h0M258.2 335.2h0M258.3 330.1h0M258.4 338.6h0M258.7 338.1h0M258.9 336.9h0M259.3 333.9h0M259.4 332.3h0M259.1 339.6h0M259.5 339.5h0M260 338.8h0M260.2 339.1h0M259.9 345.1h0M260.3 343.8h0M260.8 347.8h0M260.6 349.6h0M260.9 350.3h0M261.1 347h0M261.1 349.9h0M261.6 355.9h0M261.7 354.5h0M261.9 349.7h0M261.9 344.4h0M262.4 346.9h0M262.3 348.6h0M262.5 348.6h0M262.7 349.5h0M262.8 345.8h0M263.1 350.7h0M263.7 352.9h0M263.4 352.4h0M263.6 353.9h0M263.9 356.9h0M264.1 356.9h0M264.3 353.4h0M264.5 357.7h0M264.4 354.5h0M264.7 351.2h0M264.7 346.1h0M265.3 347.5h0M265.4 344.9h0M265.7 344.3h0M265.5 347h0M265.6 346.9h0M266.1 351h0M266.1 351h0M266.3 348.1h0M266.5 346.9h0M266.6 344.5h0M266.7 347.2h0M267.3 345.9h0M267.4 344.3h0M267.7 346.6h0M267.8 344.8h0M268 342.2h0M268.2 336.4h0M268.3 338.6h0M268.5 337.3h0M268.7 336.5h0M268.5 333.9h0M269.1 331.3h0M269.5 330h0M269.6 330.8h0M269.6 329.7h0M269.8 327.8h0M270 325.3h0M270.4 326.4h0M270.6 326.2h0M270.4 322.4h0M270.6 324.5h0M270.8 325.9h0M271 326.8h0M271.5 323.8h0M271.2 320.4h0M271.5 314.9h0M271.6 317.5h0M271.9 309.9h0M272.3 309.2h0M272.2 309.7h0M272.7 313.1h0M273 313.3h0M273 308h0M273.3 303.2h0M273.3 301h0M273.5 302.3h0M273.6 303.2h0M274 303.2h0M274.1 300.6h0M274.3 300.8h0M274.6 304.4h0M274.8 300.5h0M274.6 300.7h0M275 307.6h0M275.1 308.9h0M275.3 304.9h0M275.5 306.7h0M275.8 302.3h0M275.9 302.8h0M276.1 308.3h0M276.5 314.1h0M276.5 304.2h0M276.3 305.8h0M276.9 311h0M276.9 305.9h0M277.3 306h0M277.5 310.6h0M277.8 306.8h0M277.7 308h0M278.1 306.7h0M278.1 298.9h0M278.2 301.4h0M278.3 301.5h0M278.7 305.7h0M279.1 313.6h0M279 314.4h0M279.4 310.8h0M279.4 312.1h0M279.7 311.6h0M279.8 315.2h0M280.1 307.9h0M280 305.2h0M280.4 300h0M280.8 306.1h0M280.9 308.3h0M280.8 307.3h0M280.8 307.7h0M281.3 309.7h0M281.3 311h0M281.6 314.7h0M282 317.8h0M281.7 326.9h0M282.2 328.7h0M282.4 327.4h0M282.7 326.8h0M282.8 332.8h0M283.2 335.3h0M283.2 336.5h0M283.4 339.4h0M283.2 345.3h0M283.7 339.4h0M283.8 336.9h0M284 331.8h0M284.4 337.8h0M284.2 338.1h0M284.2 337.8h0M285.1 337.6h0M284.9 343h0M285.1 343.7h0M285.5 342.9h0M285.6 348.5h0M285.7 345h0M285.9 341.7h0M286.2 351.4h0M286.1 349.6h0M286.5 347.8h0M286.9 347.1h0M286.9 347.8h0M287.1 351.4h0M287.5 354.8h0M287.4 355.4h0M287.8 354.5h0M287.8 349.6h0M287.9 351.5h0M288.2 357.6h0M288.3 360.6h0M288.3 358.4h0M289 360.7h0M288.9 359.5h0M289.4 359.8h0M289.1 356.4h0M289.4 356.7h0M289.4 358.8h0M289.8 359.8h0M290.1 363.3h0M290.5 369.7h0M290.3 373h0M290.5 369.5h0M290.9 366.6h0M291 365.3h0M291 363.3h0M291.2 364.9h0M291.4 368.5h0M291.8 369.9h0M291.7 371.1h0M292 371.8h0M292.4 371.7h0M292.3 370.1h0M292.7 376.5h0M292.5 378.4h0M292.8 374h0M293.3 361.8h0M293.4 344.4h0M293.3 343.1h0M293.5 346.9h0M293.6 348.2h0M294.1 349.3h0M294.2 349.6h0M294.5 348.2h0M294.6 346.8h0M295.2 345.1h0M295.1 341.2h0M294.9 332.9h0M295.4 331.7h0M295.3 337.5h0M295.7 332.9h0M295.8 328.6h0M296.1 331.7h0M296.2 330.8h0M296.1 327.5h0M296.7 331.9h0M296.5 331.2h0M296.9 332.1h0M297.1 327.7h0M297.4 327.8h0M297.4 327.1h0M297.7 328h0M297.9 330.3h0M298.4 330.9h0M298.2 327.5h0M298.5 327.3h0M298.8 320.4h0M298.8 320.8h0M299.1 321.5h0M299.4 318h0M299.3 313.8h0M299.2 313.5h0M299.7 309.1h0M300 312h0M300.2 313.4h0M300.4 310h0M300.7 310.3h0M300.7 314.1h0M300.8 316.2h0M300.9 317.2h0M301.1 314.5h0M301.6 312.7h0M301.5 310.7h0M301.7 312.6h0M302.2 320.1h0M302 322.2h0M302.5 323.7h0M302.4 323.8h0M302.7 313.5h0M302.8 311.9h0M303.2 309.1h0M303.2 312.2h0M303.6 316.8h0M303.6 311.3h0M304.1 309.3h0M304 309.5h0M303.9 304.6h0M304.2 301.4h0M304.4 299.2h0M304.8 303.5h0M304.7 299.8h0M305.3 304.1h0M305.2 303.4h0M305.4 305.4h0M305.8 310h0M305.6 305.1h0M306.4 301.4h0M306.1 301.9h0M306.1 297.8h0M306.8 296h0M306.8 296.3h0M306.7 298h0M307.3 293.7h0M307.6 293.3h0M307.8 296.3h0M307.8 301.9h0M307.8 293.8h0M308 300.4h0M308.4 303.4h0M308.5 298.3h0M308.6 292.5h0M309.1 295.6h0M308.8 294.6h0M309.4 297h0M309.2 300.1h0M309.5 297.4h0M309.7 297.3h0M310.1 299.3h0M310.3 301.5h0M310.1 306.7h0M310.4 309.6h0M310.6 307h0M310.8 302.2h0M310.9 308.7h0M311.1 307.3h0M311.7 305.2h0M311.7 297.7h0M311.8 300.4h0M312.1 295.2h0M312.1 292.8h0M312.1 288.8h0M312.2 289.5h0M312.8 291.3h0M312.9 286.2h0M313.1 284.4h0M313.1 285.9h0M313.5 282.7h0M313.7 281.1h0M314 281.3h0M314.2 279.4h0M314.1 284.7h0M314.7 282.9h0M314.7 288.1h0M315 292.4h0M314.9 286.9h0M315.3 287.2h0M315.1 285.8h0M315.7 282.6h0M315.6 282.3h0M315.9 282.5h0M315.9 286.4h0M316.2 290.5h0M316.4 285.3h0M316.4 283.4h0M316.8 286h0M317.1 288.9h0M317.2 277.3h0M317.5 284.2h0M317.9 284h0M317.7 289.5h0M318.1 286.5h0M318.1 283.2h0M318.1 284.2h0M318.6 289.5h0M318.5 289.5h0M318.8 280h0M319.4 284.9h0M319.1 278.9h0M319.2 277.2h0M319.5 274.4h0M319.8 270.4h0M320.1 269.5h0M320 269.1h0M320.2 270.1h0M320.6 272.3h0M320.7 273.1h0M321 268.8h0M320.9 271.9h0M321.4 277.3h0M321.5 281.6h0M321.6 281.8h0M321.5 284.5h0M321.9 287.2h0M322.1 290.8h0M322.5 295.3h0M322.6 290.6h0M322.6 287.9h0M322.7 293.3h0M323.2 297h0M323.1 297.4h0M323.7 282.8h0M323.7 280.9h0M323.7 267.3h0M323.9 272.5h0M324.4 273.8h0M324.4 274.3h0M324.6 274.3h0M324.4 281.4h0M325 279.9h0M325 284.9h0M324.9 286.5h0M325.4 287.2h0M325.6 288.7h0M325.7 287.5h0M326.5 281.9h0M326 284.8h0M326.3 287.8h0M326.6 286.5h0M326.8 288.6h0M327 290.6h0M327.1 283.3h0M327.6 283.4h0M327.4 282.4h0M327.4 280.2h0M327.7 283.8h0M328 282h0M328.3 283.3h0M328.8 286.2h0M328.6 289.8h0M328.7 292.1h0M328.9 300.6h0M329.1 296.9h0M329.5 298.4h0M329.4 292.7h0M330 295.4h0M329.8 300h0M330 304.3h0M330.3 301.1h0M330.2 301.6h0M330.7 307.2h0M330.8 307h0M331.2 310.6h0M331.3 306.2h0M331 312.3h0M331.6 316.3h0M331.6 318.8h0M331.8 317.4h0M332 318.7h0M332.6 322.3h0M332.4 325h0M332.7 327.3h0M333 327.7h0M333.4 330.3h0M333.2 337.1h0M333.5 330.9h0M333.7 326.5h0M333.8 322.2h0M334 320.8h0M334 316.7h0M334.3 320.1h0M334.4 321.5h0M334.6 320.9h0M334.8 318.5h0M335.1 320h0M335.2 320.6h0M335.4 321.4h0M335.8 318.7h0M336 320.3h0M335.9 314.1h0M335.9 319h0M336.8 307.1h0M336.5 307.1h0M337 303.5h0M336.9 308.8h0M337.4 304.6h0M337.4 313.9h0M337.5 308.3h0M337.6 316.3h0M337.8 316.2h0M337.9 314.3h0M338.3 314.3h0M338.4 320.4h0M338.7 320.6h0M338.9 309.4h0M338.8 313.8h0M339.2 312.9h0M339.4 305.6h0M339.7 309.2h0M340 304h0M339.8 305.7h0M339.8 307.6h0M340.3 305.4h0M340.5 308.8h0M340.5 304.9h0M340.9 307.7h0M341 306.7h0M341.3 307.8h0M341.2 315.6h0M341.6 314.2h0M341.7 309.4h0M341.9 310.3h0M342.3 309h0M342.2 310.8h0M342.4 312.3h0M342.8 313.3h0M342.6 314.5h0M343.2 311.9h0M343.1 313.7h0M343.1 316.2h0M343.8 312.1h0M344 311.4h0M344 310.9h0M344 314.5h0M344.1 316.8h0M344.6 311h0M344.9 309.5h0M344.7 302.3h0M345.1 299.4h0M345.5 301.3h0M345.6 304.3h0M345.6 306.5h0M346.1 304.2h0M345.8 298.8h0M346.3 300.6h0M346.5 299.8h0M346.4 301.4h0M346.7 301h0M346.9 303.1h0M347.5 304.9h0M347.3 306.8h0M347.5 302.7h0M347.6 305.9h0M348.3 304h0M348.4 305.2h0M348.1 312.1h0M348.3 311.3h0M348.7 306.6h0M348.8 313h0M349 316.3h0M349 319.8h0M349.1 318.6h0M349.5 318.4h0M349.6 315.9h0M350.3 313.2h0M350.1 318.7h0M350.3 317.1h0M350.5 315.2h0M350.5 315.2h0M350.9 322.6h0M350.8 325h0M351.2 321.5h0M351.5 321.1h0M351.6 322h0M351.3 325.1h0M352 318.4h0M352 321.5h0M352.5 319.8h0M352.5 317.7h0M352.7 317.2h0M352.9 322.2h0M352.9 327.9h0M353.2 326.7h0M353.4 327.4h0M353.7 323.4h0M353.9 326h0M353.8 328.3h0M354.1 321.4h0M354.2 321.5h0M354.8 325.9h0M354.6 319.3h0M354.9 319.9h0M355 323.8h0M355.1 319.1h0M355.5 320.7h0M355.6 323.1h0M356 327.5h0M355.9 323.1h0M356.2 328.6h0M356.7 329.9h0M356.7 334.2h0M356.7 336h0M357.1 334.9h0M356.9 335.3h0M357.4 328.9h0M357.5 325.7h0M357.8 323.2h0M357.9 323.6h0M358.2 329.4h0M358.1 324.2h0M358.3 325.6h0M358.4 324.4h0M358.9 321.6h0M358.7 330.9h0M359.1 332.5h0M359.2 338.6h0M359.6 340.5h0M360 335.2h0M359.8 329.7h0M360.2 338.2h0M360.5 335.8h0M360.3 331.5h0M360.6 334.1h0M360.9 334.5h0M360.9 331.7h0M361.1 330.6h0M361.3 331.2h0M361.6 330.9h0M361.7 333.3h0M362.1 330.9h0M362.2 329.7h0M362.3 331.4h0M362.5 331h0M362.4 332.7h0M362.6 330.2h0M362.8 330.1h0M363.3 326.1h0M363.6 331.2h0M363.5 326.4h0M363.6 327.9h0M363.8 326h0M364.2 328.8h0M364.1 332.5h0M364.4 327h0M364.8 327.8h0M365.1 324h0M365.1 331.5h0M365.3 331.4h0M365.4 326.8h0M365.7 327h0M365.4 333.5h0M366 339.5h0M366.2 342.5h0M366.3 337.7h0M366.5 337.4h0M366.8 343.1h0M366.8 339.2h0M367.2 337.5h0M367.2 334.7h0M367.5 332.4h0M367.8 339h0M367.7 341.2h0M368.2 342.9h0M368.3 343.4h0M368.4 346.1h0M368.8 349.2h0M368.8 347.3h0M368.8 344.6h0M369.2 342h0M369.5 346.3h0M369.5 344.4h0M369.7 338.8h0M369.8 339.1h0M370 341.4h0M370.1 345.1h0M370.5 349.2h0M370.8 345.9h0M370.6 344.1h0M371 343.8h0M371.1 341.5h0M371.5 343.7h0M371.7 347.5h0M371.8 348.2h0M372.1 343.1h0M372.2 342.1h0M372.4 349.6h0M372.5 348.1h0M372.8 352h0M372.8 355.5h0M372.9 354.9h0M373.3 352.1h0M373.5 354.4h0M373.8 353.5h0M373.8 355.1h0M373.8 357.4h0M374.2 356.6h0M374.5 357.5h0M374.4 358.9h0M374.7 356.8h0M374.8 358h0M374.8 357.5h0M375.4 354.1h0M375.4 356.4h0M375.9 359h0M375.7 358.4h0M375.7 355.2h0M376 362h0M376.2 365.9h0M376.4 369.6h0M376.7 370.5h0M376.9 366.8h0M377.3 368.3h0M376.9 367.5h0M377.3 376.3h0M377.7 374.2h0M377.9 373.8h0M378 366.9h0M378.2 362.1h0M378.5 360.8h0M378.5 363.4h0M378.7 364.8h0M379 364h0M378.9 357h0M379.3 360.9h0M379.4 356.5h0M379.7 362.3h0M379.8 366.5h0M380.2 366.5h0M380.3 366.6h0M380.5 358.4h0M380.5 364.5h0M380.9 361.7h0M380.7 362.1h0M381.3 357.6h0M381.5 357h0M381.6 353.6h0M381.8 353.5h0M381.7 354.7h0M382 355.9h0M382.1 361.4h0M382.5 362.3h0M382.7 362.7h0M383.1 362h0M382.9 366.4h0M383.1 360.6h0M383.4 362.1h0M383.5 353h0M383.7 350.1h0M384 352h0M384.1 350.5h0M384.2 359.8h0M384.7 363.4h0M384.7 353.5h0M384.7 346.3h0M385 345h0M385.2 348.7h0M385.3 350.1h0M385.8 348.9h0M385.8 341.4h0M386.1 338.2h0M386.3 330h0M386.3 325.8h0M386.5 329h0M386.7 333h0M386.8 328h0M387.3 329.2h0M387.1 336.4h0M387.3 336.2h0M387.7 333.9h0M387.8 334.5h0M387.8 334.9h0M388.3 333.3h0M388.5 329.7h0M388.4 328.2h0M388.6 326.9h0M389.1 325.2h0M389.2 329.3h0M389.4 331.4h0M389.5 332.7h0M389.8 336.4h0M390.1 337h0M390.2 337.1h0M390.3 333.3h0M390.6 330.2h0M390.7 337.6h0M390.8 332.2h0M391 328.2h0M391.3 325.3h0M391.4 327.6h0M391.6 328.9h0M391.7 332.9h0M391.9 332.4h0M391.9 326.7h0M392.4 329.6h0M392.5 335.3h0M392.5 337.1h0M392.9 337.5h0M392.9 340.7h0M393.3 346.8h0M393.7 346.4h0M393.6 341.6h0M393.7 341.5h0M393.9 343.2h0M394.2 339.4h0M394.3 345.9h0M394.6 344.8h0M394.4 349h0M395.1 351.1h0M395 350.2h0M395.2 357.2h0M395.6 355.3h0M395.7 353.2h0M395.5 354.7h0M395.8 358.9h0M396.3 359.6h0M396.3 356.3h0M396.4 359.3h0M396.8 361.6h0M396.9 367.3h0M397.1 364.2h0M397.1 364.2h0M397.4 361h0M397.6 357h0M397.9 358.9h0M398.2 363.3h0M397.9 359.2h0M398.3 358.9h0M398.4 356.7h0M398.8 363.4h0M398.8 361.4h0M399.1 363.3h0M399.5 360.9h0M399.5 361.8h0M399.8 360.4h0M399.8 354.1h0M399.8 357.2h0M400.2 359.5h0M400.4 353.5h0M400.5 355h0M400.8 356.4h0M401.1 355.3h0M401.2 355.9h0M401.2 350.6h0M401.3 354.5h0M401.8 360.1h0M402 356.9h0M401.9 357.3h0M402.2 363.9h0M402.5 364h0M402.8 362.8h0M402.9 360.4h0M403.3 361.9h0M403.1 361.8h0M403.1 365.1h0M403.5 358.7h0M403.9 364.1h0M403.8 363.3h0M403.9 365.4h0M404.3 363.5h0M404.5 360.1h0M404.9 359.4h0M404.8 358.1h0M405.4 359.4h0M405.3 362.7h0M405.5 365.7h0M405.4 365.7h0M405.8 363.3h0M406.2 362.2h0M406.1 364.2h0M406.6 367.8h0M406.6 364.7h0M406.9 363h0M406.9 359.1h0M407.2 359.7h0M407 362.4h0M407.4 352.1h0M407.6 353.9h0M407.8 353.6h0M407.9 346.3h0M408 349h0M408.4 348.1h0M408.6 350.4h0M408.7 346.3h0M409.1 353.8h0M409 352.6h0M409.4 349.2h0M409.6 352.4h0M409.5 351.6h0M410 351.8h0M410 352.5h0M410.3 343h0M410.3 347.6h0M410.8 343.9h0M410.8 344h0M410.6 346h0M411 342.2h0M411.1 342.1h0M411.5 343.9h0M411.8 341.3h0M411.9 341.2h0M411.8 334.9h0M411.9 331.3h0M412.4 328.5h0M412.6 331.6h0M412.9 346h0M413.1 343.7h0M413.2 341.2h0M413.6 339.4h0M413.6 343h0M413.8 343.5h0M413.8 338.4h0M414.2 342h0M414.5 340.9h0M414.3 342.7h0M414.5 333.7h0M414.8 329.8h0M415.2 335.2h0M415.2 330.8h0M415.3 335.9h0M415.7 339h0M415.8 340.8h0M415.9 342.2h0M415.9 343h0M416 344.6h0M416.6 343.4h0M416.6 342.9h0M417 351.8h0M417.4 352.8h0M417.4 351.8h0M417.2 350.8h0M417.6 347.2h0M417.7 346.9h0M418 346.5h0M418.3 349.9h0M418.3 346.2h0M418.6 338.1h0M418.7 339.9h0M419 345.7h0M419.2 355.2h0M419.3 357.4h0M419.6 352.1h0M419.8 350.1h0M419.7 346.8h0M420 346.6h0M420.2 344.2h0M420.1 340.3h0M420.4 344.4h0M420.9 347.2h0M421 348.6h0M421.1 350.1h0M421.3 356.6h0M421.6 354.3h0M421.5 351h0M422.1 352.7h0M422 345.3h0M422.2 348h0M422.3 344.4h0M422.7 341.3h0M422.7 341.9h0M423 348.4h0M423 344.2h0M423.5 346.3h0M423.7 345.9h0M423.6 339.1h0M423.7 341.7h0M423.9 337.6h0M424.4 331.7h0M424.3 330h0M424.5 329.2h0M424.8 332.8h0M425.2 330.5h0M425.2 336.8h0M425.3 336h0M425.7 333.1h0M425.5 330.6h0M425.8 332h0M426.3 325.9h0M426.5 320h0M426.6 320.4h0M426.7 325.5h0M426.8 327h0M427 327.6h0M427.5 328.1h0M427.3 322h0M427.8 324.2h0M427.8 320.4h0M427.7 326.7h0M428.2 328.3h0M428.2 329h0M428.6 331.4h0M428.8 331.7h0M429.2 332h0M429 332.8h0M429 330.3h0M429.5 326.7h0M429.7 329.2h0M429.8 335.9h0M429.9 337.8h0M430.3 336.6h0M430.5 337.3h0M430.5 334h0M430.9 334.6h0M430.9 331.7h0M431.1 332.3h0M431.1 338.9h0M431.4 339.8h0M431.8 343.2h0M432 337.2h0M432.2 334.5h0M432.2 334.4h0M432.4 336.2h0M432.5 335.5h0M432.7 338.7h0M432.9 336.6h0M433.3 340h0M433.5 342.2h0M433.6 336h0M433.8 337.8h0M433.8 335.8h0M434 339.6h0M434.4 336.6h0M434.5 337.4h0M434.7 337.9h0M434.6 326.8h0M435.2 322.6h0M435.1 327h0M435.3 328.7h0M435.6 332.7h0M435.2 334.4h0M435.9 329.5h0M436.4 332.2h0M436.2 329.9h0M436.6 329.9h0M436.4 329.5h0M436.6 330.6h0M436.8 325.9h0M437.4 323.9h0M437.1 318.8h0M437.6 329.8h0M437.7 329.2h0M438.1 329.2h0M438 328.6h0M438.2 329.5h0M438.6 331.9h0M438.4 337.8h0M438.6 341.2h0M439.4 344.4h0M439.3 343.7h0M439.5 345.2h0M439.6 350.9h0M439.9 351.6h0M440 353.1h0M440.2 347.1h0M440.2 351.7h0M440.2 354h0M440.6 359h0M441.2 350.1h0M441 352.2h0M441 354.6h0M441.7 356.9h0M441.8 355.8h0M441.8 357.7h0M442.1 360.7h0M442.3 360.5h0M442.2 359.1h0M442.8 358.9h0M442.9 358.1h0M443 358.5h0M443.3 357.8h0M443 352.7h0M443.5 359.7h0M443.9 354.4h0M444.1 355.6h0M443.8 352.9h0M444.3 355h0M444.3 354.6h0M444.7 356.7h0M444.7 355.9h0M445.2 354.2h0M445.5 357.6h0M445.5 363.3h0M445.7 365.1h0M445.8 364.9h0M445.9 362.1h0M446.3 362.8h0M446.4 365.2h0M446.5 363.5h0M446.6 367.6h0M446.7 367.9h0M447.2 369.4h0M447.4 366.9h0M447.4 366h0M447.6 368.2h0M447.6 369.3h0M447.9 369.7h0M448 366.7h0M448.4 366.3h0M448.5 367.4h0M448.7 363.6h0M448.8 369.5h0M449.1 371.8h0M449 373h0M449.7 371.7h0M449.6 375.2h0M449.9 375h0M450.1 382.2h0M450.1 383.1h0M450.6 378.8h0M450.6 381.8h0M450.7 380.7h0M451.1 379.8h0M451 381.3h0M451.4 383.2h0M451.7 385.7h0M451.6 389.6h0M451.9 391.2h0M451.8 389.3h0M452.3 387.8h0M452.4 388h0M452.3 392.5h0M453 397.9h0M453.3 403.5h0M452.9 399.2h0M453.4 401.8h0M453.5 403h0M453.7 404.1h0M453.9 406.9h0M454.1 407.4h0M454.2 409.3h0M454.5 409.9h0M454.6 413.4h0M454.8 417.6h0M454.9 422.1h0M455.3 419.7h0M455.7 416.6h0M455.6 416.9h0M455.7 415.9h0M456.1 420.7h0M455.8 419.3h0M456.3 420.2h0M456.3 418.5h0M456.6 418.8h0M456.7 421.2h0M457 427h0M457.4 424.8h0M457.3 426.1h0M457.5 421.8h0M457.9 422h0M458 422.8h0M458.2 423.8h0M458.3 427h0M458.4 428.8h0M458.6 424.8h0M458.8 428.1h0M458.9 426.8h0M458.9 433h0M459.3 433.7h0M459.6 434.2h0M459.7 432.7h0M460.1 432.2h0M460.3 432.3h0M460.4 431.5h0M460.5 434.2h0M460.8 435.1h0M460.8 436.3h0M461.1 435.6h0M461.1 436.7h0M461.4 434.2h0M461.7 442.3h0M461.8 439h0M462.1 435.8h0M462.2 437.7h0M462.4 438.7h0M462.6 434.3h0M462.4 429.9h0M462.9 427h0M463.2 425.6h0M463.5 425.3h0M463.6 427.9h0M464.1 431.2h0M464.1 433.6h0M464.1 432.2h0M464 433.6h0M464.4 437h0M464.6 439.1h0M464.8 437.3h0M465 435.5h0M465 437.3h0M465.4 440.3h0M465.5 437.2h0M465.6 441.4h0M465.7 444.4h0M466.1 441.5h0M466.2 436.2h0M466.1 435.9h0M466.7 436.3h0M466.8 438.8h0M466.8 435.1h0M467.3 441.7h0M467.3 447.2h0M467.6 443.5h0M467.6 438.2h0M467.9 438.5h0M468.2 440.4h0M468.4 444.2h0M468.4 445.2h0M468.3 443.6h0M468.9 438.1h0M469 440.3h0M469.4 442.6h0M469.3 442h0M469.7 442.8h0M469.6 443h0M470 442.3h0M470.1 440.4h0M470.4 442.4h0M470.5 439.9h0M470.7 444.6h0M471.1 442.8h0M471.3 445.1h0M471.3 444.3h0M471.3 446h0M471.5 446h0M472 448.2h0M472 447.1h0M472.1 445h0M472.3 445.5h0M472.8 446.8h0M472.8 444.7h0M472.8 445.7h0M473.3 444.6h0M473.4 448.6h0M473.3 449.4h0M473.5 451.7h0M473.9 457.4h0M473.9 457.1h0M474.2 456.4h0M474.7 457h0M474.9 455.6h0M475 453.4h0M475 455.8h0M475.2 457.3h0M475.2 449.9h0M475.3 450.8h0M475.7 451.2h0M475.9 451.7h0M476.2 455.6h0M476.4 454.4h0M476.5 456.2h0M476.7 455.5h0M476.9 455.5h0M477.2 458.2h0M477 456h0M477.7 456.5h0M477.6 454.6h0M477.5 454.8h0M478 457.2h0M478.4 459.1h0M478.2 457.2h0M478.6 455.1h0M478.7 461.5h0M479.1 458.9h0M479.1 456.6h0M479.1 458.4h0M479.5 456.7h0M479.7 455.6h0M479.8 459.3h0M479.9 460.7h0M479.9 459.9h0M480.3 462.2h0M480.3 460.9h0M480.6 459.7h0M480.9 459.6h0M481.2 458.9h0M481.4 461.1h0M481.2 461h0M481.8 458.2h0M481.5 458h0M482 455.9h0M482.2 455.4h0M482.5 454.9h0M482.6 456.9h0M482.9 457.4h0M482.8 459.8h0M483.1 462.2h0M483.4 459.1h0M483.4 456.1h0M483.6 453.3h0M483.9 454.3h0M483.8 456.3h0M484.2 459.5h0M484.2 456.1h0M484.8 459.9h0M485 461.4h0M485.1 465.9h0M485.5 464.1h0M485.4 461.7h0M485.5 456.1h0M485.7 454.6h0M485.9 452.7h0M486 451.5h0M486.3 450.1h0M486.3 446.7h0M486.5 447.6h0M486.8 450.2h0M486.8 452.8h0M487.3 451.7h0M487.4 453.8h0M487.5 455.7h0M487.9 451.5h0M488 450.1h0M488.3 447h0M488.3 445.4h0M488.4 446.1h0M488.7 447.1h0M488.7 449.7h0M489.2 453.5h0M489.3 452.8h0M488.9 450.6h0M489.6 449.2h0M489.8 447h0M489.8 447.4h0M490.1 444.8h0M490.3 445.9h0M490.2 443.8h0M490.7 445.5h0M490.9 446.9h0M491 449.9h0M491.2 447.1h0M491.4 442.6h0M491.8 438.8h0M491.9 439.2h0M491.9 438h0M492.1 436.8h0M492.3 438.6h0M492.7 438.1h0M492.8 441.6h0M492.8 446h0M493.3 445h0M493.4 445.7h0M493.3 441.7h0M493.7 442.6h0M493.9 442.2h0M494.1 440.9h0M494.3 436.9h0M494.3 442.5h0M494.5 438.2h0M494.6 436.7h0M495 437.2h0M495.1 438.1h0M495.1 438h0M495.5 437.9h0M495.7 434.5h0M495.9 436.1h0M496 435.4h0M496.3 430.1h0M496.3 434.8h0M496.4 432.7h0M497 433.5h0M496.8 428.3h0M497.2 424.8h0M497.6 423.1h0M497.5 422.4h0M497.9 425.8h0M497.9 421.3h0M498.1 422.4h0M498 420.1h0M498.6 422.2h0M498.6 422.4h0M498.9 420.4h0M498.9 425.8h0M499.2 423.9h0M499.4 426.1h0M499.8 422.3h0M499.9 423.1h0M499.8 423.9h0M500.3 424.2h0M500.3 424.1h0M500.4 422.1h0M500.6 414.9h0M501 416h0M500.8 415.5h0M501.2 419h0M501.3 423.7h0M501.6 429h0M501.7 429.4h0M501.8 430.5h0M502.1 431.7h0M502.3 432.3h0M502.5 432.4h0M502.7 431.3h0M503.1 431.2h0M503.1 432.1h0M503.3 437h0M503.5 437.8h0M503.6 441.5h0M503.8 437.3h0M503.9 438.4h0M504.1 439.3h0M504.3 441.7h0M504.6 438.5h0M504.4 436.2h0M504.9 434.6h0M505.1 436.2h0M505.4 443.9h0M505.7 444.7h0M505.4 441.4h0M505.8 443.1h0M506 443.1h0M506 443.4h0M506.3 442.7h0M506.6 440.7h0M506.7 440.8h0M506.7 443.7h0M507.3 444.3h0M507.2 447.6h0M507.5 444.9h0M507.4 447.8h0M507.9 448.4h0M508.2 448.8h0M508.4 451.2h0M508.6 450.9h0M508.7 451.4h0M508.7 453h0M508.8 454.4h0M509.4 455.1h0M509.2 456.4h0M509.4 457h0M509.8 453.6h0M509.9 458.2h0M510.3 457h0M510.2 456.2h0M510.6 453.9h0M511.1 448.4h0M510.8 449.3h0M511 450.9h0M511.1 453.6h0M511.4 453.3h0M511.5 455.8h0M511.9 458.1h0M512.1 459.2h0M512.2 458.4h0M512.5 457.7h0M512.4 456.9h0M512.8 454.5h0M512.8 457.8h0M513.2 453.9h0M513.3 454.5h0M513.2 455.3h0M513.6 450.4h0M513.6 454.6h0M513.9 454.5h0M514.3 455.2h0M514.7 454h0M514.6 451.2h0M514.8 452.7h0M515 452.9h0M515.1 455.1h0M515 455.8h0M515.6 451.3h0M515.7 454.7h0M515.8 456.5h0M516.1 458.3h0M516.3 457.7h0M516.4 454.7h0M516.7 455.1h0M516.8 453.3h0M517.1 459.3h0M517.1 456.5h0M517.3 453.3h0M517.4 451.8h0M517.6 455.3h0M517.5 453.6h0M517.9 448.5h0M518.2 453.3h0M518.6 454.3h0M518.5 453.1h0M518.8 455.2h0M519 452.8h0M519.2 451h0M519.1 455h0M519.5 455h0M520 456.5h0M520.1 456.9h0M520 458.6h0M520.3 458.2h0M520.6 452.5h0M520.6 454.8h0M520.9 454h0M521 456.1h0M521.1 455.6h0M521.4 458.8h0M521.4 456.7h0M521.8 451.1h0M522 451h0M522.1 452.6h0M522.4 451.4h0M522.5 450.7h0M522.7 454.2h0M522.8 452.3h0M522.9 454.6h0M523.3 453.6h0M523.5 448.5h0M523.8 446.5h0M523.5 446.1h0M524 447.5h0M524.1 445.5h0M524.3 443.1h0M524.4 441.6h0M525.1 441.6h0M525 441.4h0M525.1 441.6h0M525.4 448.4h0M525.2 448.6h0M525.6 446.8h0M525.9 446.6h0M526 451.3h0M526 452h0M526.3 450.1h0M526.8 446.7h0M526.9 443.2h0M527 445.2h0M527.2 446.9h0M527.7 443.9h0M527.6 443.2h0M527.6 445.6h0M527.6 442.1h0M528.1 440.7h0M528.2 443.5h0M528.1 446.5h0M528.5 448.6h0M528.8 451.2h0M528.9 454.5h0M528.8 455.2h0M529.2 452.9h0M529.3 458h0M529.9 460h0M529.9 460h0M529.9 457.4h0M530.4 457.2h0M530.2 451.1h0M530.6 450.2h0M530.9 444.8h0M530.9 446.4h0M531 449.4h0M531.1 448.7h0M531.4 452.5h0M531.9 451.4h0M532 451.7h0M532.3 449.6h0M532.2 450.9h0M532.9 449h0M532.4 451.8h0M532.7 454.4h0M532.7 452.7h0M533.3 449.1h0M533.4 449.9h0M533.9 452.4h0M533.7 452.3h0M533.9 452h0M533.6 453h0M534 453.8h0M534.5 445.2h0M534.6 448.4h0M535 449.6h0M534.9 449.8h0M535.3 447.4h0M535.5 447.3h0M535.4 447.8h0M535.9 443.7h0M536.2 446.2h0M536.2 446.4h0M536.5 450.3h0M536.6 451.4h0M536.7 449.3h0M537 449.8h0M537.4 451.2h0M537.1 450.6h0M537.5 451.1h0M537.6 448.6h0M537.8 445h0M538 443.8h0M538.2 441.2h0M538.4 440.6h0M538.5 441.3h0M538.8 438.6h0M538.7 436.3h0M539.3 440h0M539.2 439.3h0M539.4 439.7h0M539.9 437.6h0M540 435.9h0M540.2 436.1h0M540.3 441.2h0M540.5 441.9h0M540.5 436.9h0M540.9 438.1h0M541.1 440h0M541.3 441.1h0M541.3 437.4h0M541.5 437.7h0M541.6 442.6h0M542.1 438.4h0M542 439h0M542.4 438h0M542.4 435.7h0M542.5 434.9h0M542.8 438.5h0M542.8 441h0M543.2 438.4h0M543.4 437.5h0M543.5 435.7h0M543.7 431.2h0M544 435.3h0M544.1 439.8h0M544.2 443.1h0M544.5 440.9h0M544.6 443.8h0M544.7 445.2h0M545 443h0M545.2 442.2h0M545.6 441.2h0M545.6 442.2h0M545.7 447.2h0M546.3 444.3h0M546.4 441.2h0M546 444.4h0M546.3 445.2h0M546.6 440.7h0M547.1 439.7h0M546.9 438.1h0M547.3 439h0M547.4 441.2h0M547.8 444.9h0M547.8 443.5h0M548.1 442.5h0M548.2 440.7h0M548.6 443h0M548.7 445.6h0M548.9 443.3h0M548.9 441.3h0M549.1 445.8h0M549.5 446.3h0M549.8 442.8h0M549.7 438h0M550 437.8h0M549.9 441.9h0M550.5 440.1h0M550.3 439.7h0M550.7 438.9h0M550.9 440.9h0M550.9 444.2h0M551 441.1h0M551.3 440.9h0M551.7 439.8h0M551.5 437.4h0M551.9 434.7h0M551.7 436.5h0M552.3 435.7h0M552.3 436.9h0M552.6 439.5h0M552.8 437.3h0M552.9 438.1h0M553.3 437.4h0M553.6 436.3h0M553.8 436.6h0M553.8 435.9h0M553.9 432.6h0M554.2 436.9h0M554.5 436.3h0M554.4 431.7h0M554.7 427.4h0M554.8 429.1h0M555.2 432.7h0M555.2 436.3h0M555.1 439.3h0M555.7 437.2h0M555.9 438.4h0M556 432.8h0M556.3 433.6h0M556.3 435.5h0M556.4 433.8h0M556.8 432.9h0M556.8 432.8h0M556.9 432.4h0M557.4 436.6h0M557.5 432.5h0M557.2 434.9h0M557.9 430.3h0M558 427.9h0M558.1 427h0M558.3 428.3h0M558.7 427.7h0M558.9 429.6h0M559 428.9h0M559.3 435.1h0M559.2 434.2h0M559.7 433.1h0M560.1 432.7h0M559.9 433.3h0M560.1 432h0M560.3 428.9h0M560.6 426.9h0M560.4 428.5h0M561 431h0M560.9 431.6h0M561.2 430.5h0M561.4 432.6h0M561.6 431h0M561.7 432.1h0M562 435.6h0M562.3 437.6h0M562.3 439.3h0M562.7 437.9h0M562.6 438.3h0M562.5 435.5h0M563 438h0M563.2 436.1h0M563.4 431.8h0M563.3 431.3h0M563.6 432.3h0M563.9 426.7h0M564.1 424.3h0M564.3 428.3h0M564.7 429.3h0M564.8 429.3h0M564.9 424.9h0M565 430.3h0M565 433.1h0M565.5 434.2h0M565.6 431.4h0M565.8 433h0M566.3 435h0M566.2 433.4h0M566.7 432h0M566.4 431.4h0M566.6 433.7h0M566.8 433h0M567.1 432.8h0M567 429.8h0M567.5 427.2h0M567.7 431.1h0M567.9 435.1h0M568.1 436.9h0M568.3 440.7h0M568.5 437.6h0M568.6 437.1h0M568.8 437.7h0M568.9 437.5h0M569.1 441.3h0M569.5 437.5h0M569.3 437h0M569.8 437h0M570 436.6h0M569.8 440h0M570 436.4h0M570.3 441.5h0M570.7 444.9h0M570.7 446.1h0M571.1 449h0M571.1 453.3h0M571.1 452h0M571.6 452.4h0M571.8 452.4h0M571.9 451.9h0M572 449.4h0M572.1 447.3h0M572.6 449.4h0M572.9 448.1h0M572.8 450.4h0M572.8 452.4h0M573 450.7h0M573.4 451h0M573.4 451.3h0M573.7 451h0M573.8 454h0M574.1 453.9h0M574.1 453.9h0M574.6 449.2h0M574.9 451.8h0M575.1 449.6h0M574.8 450.2h0M575.4 455.7h0M575.5 459.3h0M575.7 457.5h0M575.9 455.1h0M576.1 455.9h0M576.2 454.6h0M576.4 456.2h0M576.5 453.9h0M576.6 457.9h0M577.1 461.8h0M577.1 458.4h0M577.2 456.8h0M577.6 456.2h0M577.7 459.1h0M577.8 454.6h0M578 456.1h0M577.9 456.3h0M578.2 456.1h0M578.5 459.3h0M578.8 455h0M579 453.4h0M578.9 453.6h0M579.2 457.3h0M579.5 457.7h0M579.8 457h0M579.7 458.9h0M579.9 459.2h0M580 459.3h0M580.4 459.2h0M580.6 460.9h0M580.9 467.7h0M580.9 464.4h0M581.3 465.1h0M581.3 464.4h0M581.5 464.6h0M581.5 467.5h0M582.1 468.9h0M582 470.3h0M582.4 468h0M582.5 466.5h0M582.6 467.9h0M582.7 467.1h0M583.1 466.3h0M583.1 469h0M583.2 466.4h0M583.4 465.5h0M583.6 466.8h0M583.8 466.2h0M584.3 467.8h0M584.3 465.9h0M584.6 468.3h0M584.7 467.3h0M584.8 471.7h0M585 473.2h0M585.1 475h0M585.4 477.7h0M585.6 477.7h0M585.8 474.8h0M585.9 477.8h0M586.2 477.9h0M586.2 479.8h0M586.3 478.5h0M586.6 479.8h0M586.6 476h0M587.1 473.3h0M587.5 470.4h0M587.4 473.8h0M587.8 470.4h0M588.1 468.8h0M588 468.5h0M588.3 472.1h0M588.5 475.6h0M588.8 475.4h0M588.8 477.8h0M588.8 480h0M589 482.7h0M589.1 484.9h0M589.4 483.4h0M589.8 484.3h0M589.9 484.4h0M589.9 485.9h0M590.3 486.9h0M590.1 487.5h0M590.6 489.4h0M591 490h0M590.9 492.1h0M591.1 492.1h0M591.5 492.3h0M591.7 493.9h0M591.7 495.4h0M591.6 496.5h0M592.2 497h0M592.5 496.3h0M592.3 497h0M593 496.7h0M592.7 494.3h0M593.2 493.1h0M593.3 495.7h0M593.5 494.2h0M593.4 488.7h0M593.9 489.1h0M593.7 490.5h0M594.1 488.4h0M594.3 492.6h0M594.5 493.4h0M594.5 493.6h0M594.7 490.6h0M594.8 489.6h0M595.5 490.1h0M595.4 489.6h0M595.5 486.9h0M595.8 487.5h0M596 487.2h0M596.4 487h0M596.2 484.1h0M596.7 484h0M596.5 484.2h0M596.9 484.1h0M597.1 485.9h0M597.2 482.8h0M597.6 484.5h0M597.6 485h0M597.7 481.4h0M597.9 481.6h0M598.4 480.2h0M598.4 480.5h0M598.5 483.7h0M598.5 485.1h0M598.7 489h0M599 487.9h0M599.4 484.5h0M599.6 484.2h0M599.6 478.6h0M600.1 483.3h0M600.1 484.2h0M600.2 485h0M600.4 484.5h0M600.5 483.2h0M600.9 482.8h0M601 481.1h0M601.2 480.4h0M601.1 481.6h0M601.3 479.8h0M601.8 483.4h0M602.1 480.5h0M602 482.8h0M602.2 481.4h0M602.4 479.4h0M602.5 481.2h0M602.6 481.8h0M602.8 482.2h0M603.4 482.1h0M603.3 480.9h0M603.7 482.6h0M603.5 481.8h0M604 481.9h0M604.3 484h0M604.2 480.2h0M604.6 479.7h0M604.7 478.7h0M605.2 478h0M605 476.9h0M605.2 478.1h0M605.2 479.5h0M605.6 480h0M605.9 477.3h0M605.8 480.6h0M606.3 481.3h0M606.2 481.1h0M606.5 478.5h0M606.9 477.5h0M606.8 481.9h0M607.1 484.7h0M607.2 485.1h0M607.3 482.1h0M607.7 484.5h0M607.5 483.5h0M607.8 485.5h0M608.1 482.2h0M608.4 483h0M608.4 481.1h0M608.5 481.8h0M609.1 480.9h0M609.2 482.6h0M609.4 481h0M609.5 478.8h0M609.8 479.6h0M609.9 480h0M609.8 476h0M610.2 475.8h0M610.5 475.8h0M610.3 476.7h0M610.7 480.1h0M611 477.3h0M611.1 477.3h0M611.2 472.4h0M611.5 469.5h0M611.7 468.5h0M612.1 467.7h0M611.9 468.3h0M612.2 470.2h0M612.3 471.2h0M612.8 472.6h0M612.8 470.5h0M613.1 469.7h0M613.2 466.7h0M613.6 466.5h0M613.5 466.2h0M613.8 464.7h0M614 457h0M613.9 456.7h0M614 463.6h0M614.6 463h0M614.7 461.9h0M614.9 462.2h0M615 463.6h0M615.2 462.9h0M615.3 461.9h0M615.6 458.2h0M615.7 458h0M615.9 456.7h0M616.3 457.6h0M616.5 460.4h0M616.5 461.7h0M616.9 459.1h0M616.8 456.8h0M617.2 453.1h0M617.4 455.3h0M617.4 456.7h0M617.9 457.3h0M617.6 457.2h0M618 454h0M618.1 451.7h0M618.6 455.9h0M618.6 455.5h0M618.6 460.3h0M618.9 456.3h0M619 455.6h0M619.4 456.4h0M619.3 458.4h0M619.5 460.8h0M619.9 459.6h0M619.9 463h0M620.2 460.6h0M620.4 460h0M620.5 458.5h0M620.5 459.8h0M620.6 460.7h0M621.1 463.5h0M621.3 471.2h0M621.6 467.3h0M621.7 466.2h0M621.8 467.3h0M622 467.8h0M622.3 470.6h0M621.9 467.1h0M622.3 467.4h0M622.8 464.6h0M622.9 466h0M623 466.6h0M623.3 466.2h0M623.6 463.6h0M623.8 459.1h0M623.9 457.4h0M623.8 460h0M624.4 459.9h0M624.3 462.9h0M624.7 459.7h0M624.9 460.6h0M624.7 463.2h0M625 458.1h0M625.1 459.7h0M625.4 464.4h0M625.8 462.5h0M626.1 464.9h0M626.1 464.9h0M626.3 466.3h0M626.4 465h0M626.9 462.8h0M626.8 462h0M626.9 461.7h0M627.2 461.2h0M627.5 459.6h0M627.5 462.7h0M627.7 462.6h0M627.7 461.6h0M628.2 461.5h0M628.2 464.2h0M628.6 460.6h0M628.7 464.1h0M628.9 466.6h0M629 469.1h0M629.3 467.2h0M629.3 465.3h0M629.6 466.1h0M630 466.2h0M630.3 468.6h0M630 467.7h0M630.4 465.6h0M630.6 463.6h0M630.7 463.9h0M631 463.4h0M630.9 466.5h0M631.4 465.5h0M631.3 467.5h0M631.9 468.6h0M631.9 465.6h0M632.4 462.2h0M632.4 461h0M632.4 460.6h0M632.4 460.4h0M632.4 462.3h0M633 463.1h0M633.1 464.4h0M633.5 463.6h0M633.4 461.3h0M633.7 461.6h0M633.8 459h0M634.1 458.4h0M634.3 455.8h0M634.2 457.4h0M634.6 449.8h0M635 451.5h0M635 452.8h0M635.4 451h0M635.2 450.3h0M635.3 449.2h0M635.6 450h0M635.7 452.3h0M636.3 449.7h0M636.3 450.8h0M636.6 446.4h0M636.9 444.9h0M636.9 443.9h0M636.7 438.2h0M636.9 438.1h0M637.5 435.4h0M637.7 436.5h0M637.6 433.5h0M638 428.3h0M638.2 425.5h0M638.3 426.5h0M638.3 427.5h0M638.9 427.6h0M638.7 425.5h0M639.1 427.1h0M639 424.6h0M639.3 422.6h0M639.7 424h0M639.6 421.4h0M639.7 416.1h0M640.1 418.4h0M640.3 417.4h0M640.4 416.2h0M640.8 419.6h0M641 416.1h0M641.1 416.9h0M641.5 417.1h0M641.4 422.4h0M641.8 415.1h0M641.8 418h0M641.8 419.5h0M642 422.2h0M642.1 420.4h0M642.3 419.4h0M642.8 424.4h0M642.7 422.9h0M643.1 423.2h0M643.3 424h0M643.4 425.6h0M643.8 422.6h0M643.7 422.6h0M643.9 425h0M644.4 426.9h0M644.6 430.3h0M644.6 431.6h0M644.6 433.2h0M644.9 432.4h0M645.3 435.4h0M645.6 434h0M645.4 434.5h0M645.7 431.9h0M645.7 431.5h0M646.2 435.7h0M646.3 436.8h0M646.5 432.6h0M646.5 435.1h0M647 436.7h0M647.1 435.9h0M647.3 440.4h0M647.3 442.2h0M647.5 444.9h0M647.8 448.9h0M648 449.3h0M648.3 454.2h0M648.5 455.4h0M648.3 457.8h0M648.4 462.8h0M649 465.6h0M649 466.5h0M649.2 468.1h0M649.5 471h0M649.6 470.2h0M649.8 474.3h0M650 477.3h0M650.1 477.8h0M650.3 480.2h0M650.5 485.4h0M650.7 482.7h0M650.8 485.5h0M651.3 481.6h0M651.3 479.2h0M651.4 471.2h0M651.8 469.8h0M651.9 467.3h0M652.1 467.1h0M652.3 467.8h0M652.2 466.5h0M652.7 470.9h0M652.9 470.7h0M652.9 466.9h0M653.5 466.2h0M653.1 459.2h0M653.6 458.8h0M653.6 462.8h0M653.8 461.1h0M654.2 461.1h0M654.4 457.5h0M654.5 459h0M654.4 458.8h0M654.9 458.3h0M654.9 460.4h0M655.1 462.6h0M655.4 462.8h0M655.3 457.1h0M655.9 456.5h0M655.9 455.9h0M655.9 452.9h0M656.2 449.4h0M656.3 449.2h0M656.5 450h0M656.9 450.5h0M657.1 449.5h0M657.4 450.9h0M657.7 451.6h0M657.7 451.2h0M657.4 451.5h0M658 449.2h0M658.2 446.4h0M658.4 448h0M658.6 450.9h0M658.7 456.2h0M659 449.2h0M659.1 447.4h0M659.5 445.1h0M659.3 446.3h0M659.4 444.3h0M659.7 445.7h0M660.3 447.3h0M659.8 444.8h0M660.3 444h0M660.3 446.9h0M660.7 448.7h0M660.9 444.3h0M660.9 449.1h0M661.4 446.3h0M661.7 446.5h0M661.6 444.7h0M661.9 441.6h0M661.9 438.8h0M662 440.9h0M662.5 437.6h0M662.7 435.7h0M662.6 435.8h0M663 436.9h0M663.3 433h0M663.2 436.9h0M663.2 435.5h0M663.7 438.9h0M664 441.9h0M664 441h0M664.3 442h0M664.3 439.6h0M664.6 437.4h0M664.7 433.3h0M665 435h0M665.2 434.3h0M665.3 429.4h0M665.5 431.3h0M665.5 436h0M665.6 437.3h0M666 438.9h0M666.2 436.2h0M666.4 431.8h0M666.6 431.2h0M666.8 429.4h0M666.9 426.6h0M667.1 429.9h0M667.3 428.9h0M667.6 427h0M667.7 428.1h0M667.7 427.9h0M668 428.8h0M668.2 432.4h0M668.5 428.8h0M668.8 424.3h0M668.4 427.1h0M668.9 431.2h0M669.1 427.9h0M669.7 425.4h0M669.5 421.9h0M669.8 422.2h0M670.2 424.2h0M670.1 423.9h0M670.3 428h0M670.5 426.5h0M670.7 425.2h0M670.8 423.8h0M671.1 429.6h0M671.2 431.8h0M671.3 434.5h0M671.8 432.2h0M671.6 434.6h0M672.1 434.8h0M672.1 435.6h0M672.3 436.7h0M672.4 435.2h0M672.7 433.8h0M673 428.9h0M672.9 428.2h0M673.4 428.6h0M673.1 426.6h0M673.5 427.9h0M673.6 431.3h0M674 430.5h0M674.3 428.1h0M674.3 426.4h0M674.6 428h0M674.7 432.9h0M675.1 432.4h0M674.9 432.4h0M675 428.2h0M675.4 429.5h0M675.4 431.4h0M675.9 429.7h0M676.1 429.5h0M676.1 428.1h0M676.3 430.4h0M676.6 433.3h0M676.8 432.2h0M676.9 431.7h0M677.2 430.6h0M677.2 427.9h0M677.6 425.5h0M677.9 424.6h0M678 424.4h0M677.9 424.9h0M678.1 426.9h0M678.3 428.9h0M678.7 432.8h0M678.9 433.2h0M678.8 430.9h0M679 430.3h0M679.4 425.5h0M679.2 430.5h0M679.9 429.5h0M679.9 428.9h0M680 433.2h0M680.4 430.5h0M680.5 429.3h0M680.6 430.5h0M681.2 430h0M681 431.1h0M681.2 432.4h0M681.5 435h0M681.6 434.6h0M681.9 437.3h0M681.9 436.1h0M682.3 438.7h0M682.4 440.8h0M682.5 435.6h0M682.9 436.3h0M682.7 438.6h0M683.1 434.8h0M683.4 430.2h0M683.6 434.2h0M683.6 434.7h0M683.7 439h0M684.1 441.5h0M683.9 442.4h0M684.5 441.8h0M684.3 441.8h0M684.6 440.7h0M685.1 441.3h0M685.1 444.3h0M685.2 444.3h0M685.7 445.7h0M685.7 446.6h0M685.8 446.4h0M686.1 444h0M686.3 446.7h0M686.4 445.9h0M686.7 447.6h0M686.9 443.4h0M686.8 445.4h0M687.2 447h0M687.4 444.7h0M687.6 442.4h0M687.6 444.7h0M688 446.2h0M687.9 445.6h0M688.2 445.2h0M688.4 448.3h0M688.6 448.5h0M688.8 448.3h0M689 450h0M689.3 449.9h0M689.7 449.5h0M689.5 451.9h0M689.8 451.2h0M689.9 453.6h0M690.1 451.4h0M690.2 451.7h0M690.4 455.7h0M690.9 456h0M690.8 455.9h0M691.1 456.5h0M691 456.8h0M691.5 454.9h0M691.7 454.4h0M691.8 451.9h0M692.1 454.8h0M692.2 451.4h0M692.2 452.4h0M692.6 448.9h0M692.8 450.5h0M693.1 453.1h0M693 449h0M693.3 451.7h0M693.6 447.8h0M693.6 446.1h0M694.2 446.4h0M694.3 444.9h0M694.2 447.4h0M694.5 447.3h0M694.7 440.3h0M694.7 439.1h0M694.8 438.8h0M695.3 441.5h0M695.4 440.2h0M695.4 439.4h0M695.6 442.5h0M695.7 441.3h0M695.8 443.1h0M696.4 439.3h0M696.5 442.7h0M696.6 446.1h0M696.6 442.9h0M696.8 438.3h0M697.2 435.2h0M697.1 438.5h0M697.5 435.8h0M697.6 437.3h0M697.5 433.6h0M698.1 430.4h0M698.1 430h0M698.1 431.4h0M698.6 429.4h0M698.6 425.1h0M699.1 425.7h0M699.1 425.1h0M699.3 425.6h0M699.7 423.1h0M699.5 420.4h0M699.9 420.2h0M700.2 411.7h0M700.4 413h0M700.3 416.2h0M700.7 417h0M701.1 413.4h0M700.9 409.3h0M701.1 413.5h0M701.5 411.8h0M701.6 410.8h0M701.7 410.9h0M702.2 408.1h0M702 407.9h0M702.5 411.2h0M702.3 409h0M702.3 412.3h0M702.9 411h0M703.2 410.1h0M703.2 412.5h0M703.7 415h0M703.6 416.9h0M703.9 416.9h0M704 414.8h0M704 419.7h0M704.5 418.8h0M704.8 417h0M704.9 419.6h0M705.1 422.2h0M705.3 422h0M705.4 422.1h0M705.7 424.5h0M705.7 428.9h0M705.7 428.2h0M706.1 425.8h0M706.4 424.4h0M706.3 425.8h0M706.6 426.2h0M706.9 425.3h0M706.9 428.3h0M707.5 429.2h0M707.4 427.9h0M707.7 429.5h0M707.8 427.4h0M708 426.2h0M708.1 426.3h0M708.1 424.1h0M708.2 426.5h0M708.4 425.9h0M708.7 425.9h0M708.7 426.6h0M709.1 428.2h0M709.2 427.6h0M709.4 426.6h0M709.6 426h0M710 431.5h0M710 428.6h0M710.2 430.3h0M710.7 433h0M710.6 430.9h0M711 429.1h0M711 429.1h0M711.2 426.8h0M711.4 432.8h0M711.4 431.8h0M712 429.9h0M712.2 429.6h0M712.1 431.4h0M712.5 431.1h0M712.5 430.4h0M712.6 432.7h0M713.1 432.5h0M712.9 432.7h0M713.2 434.1h0M713.6 433h0M713.6 434.7h0M713.9 434.4h0M713.8 441.2h0M714.1 437.8h0M714.4 439h0M714.3 436.1h0M714.6 434h0M714.8 434.4h0M715 434.9h0M715.3 434.8h0M715.4 436.1h0M715.4 439.1h0M715.8 444.3h0M716.2 447.9h0M716.2 446.5h0M716.3 449.3h0M716.6 451.1h0M716.8 447.1h0M716.7 444.3h0M717.4 443.9h0M717.3 448.4h0M717.8 447.8h0M717.6 447h0M717.7 451.1h0M718.1 450.8h0M718.4 450.1h0M718.5 450.7h0M718.6 450.6h0M718.8 445.5h0M719 444.2h0M719.3 448.2h0M719.3 445.9h0M719.6 450.3h0M719.6 451.1h0M719.9 452.5h0M720 453.5h0M720.2 449.8h0M720.4 449.9h0M720.4 449h0M721 451.8h0M721.1 456h0M721.3 457h0M721.7 457.3h0M721.3 452.7h0M721.8 452.5h0M722 452.8h0M722.3 453.7h0M722.2 455.7h0M722.4 459.8h0M722.5 459h0M723 459h0M723.3 454.9h0M723.1 456.1h0M723.4 455.7h0M723.6 450.9h0M723.7 452.3h0M723.7 450.1h0M724.3 452.9h0M724.1 453.4h0M724.7 452.8h0M724.5 455.4h0M725 453.4h0M725.3 451.7h0M725.2 450.2h0M725.3 450.4h0M725.6 447.8h0M725.8 449.4h0M725.8 450.7h0M726.1 448.2h0M726.5 444h0M726.7 447h0M726.9 449.6h0M726.7 449.9h0M727 450.2h0M727.3 453.3h0M727.5 451.5h0M727.8 453.3h0M727.7 450.9h0M728.3 447.9h0M728.4 446.4h0M728.5 445.3h0M728.5 446.5h0M728.5 450.5h0M728.8 449.3h0M729.3 448.7h0M729.3 450.3h0M729.8 450.2h0M729.7 445.5h0M729.7 439.7h0M730.2 441.9h0M730.2 435.3h0M730.5 428.6h0M730.7 422.3h0M730.6 424.6h0M730.8 419.4h0M731.4 418.2h0M731.2 417.7h0M731.4 419.8h0M731.5 413h0M731.7 413.2h0M732 412.6h0M732.2 413.8h0M732.3 409.5h0M732.6 406.8h0M732.9 403.4h0M732.7 402.8h0M733.1 403.3h0M733.4 399.7h0M733.3 400.3h0M733.9 393.7h0M734 393.7h0M734.1 391.9h0M734.4 391.6h0M734.6 395.3h0M734.6 402.3h0M734.8 400.9h0M734.9 399.4h0M735.3 399h0M735.5 400.7h0M735.5 400.2h0M735.9 404h0M736.2 408.3h0M736 409.1h0M736.6 406.3h0M736.7 409h0M736.9 406.7h0M736.9 402.2h0M737.4 406.4h0M737.2 410.9h0M737.6 413.7h0M737.6 411h0M737.6 400.6h0M738.1 401.6h0M738.4 405.5h0M738.2 405.3h0M738.6 409.9h0M738.7 407.9h0M738.8 410.1h0M739.1 410.4h0M739.5 411.6h0M739.7 407.7h0M739.8 408h0M739.9 409.7h0M740.2 409.2h0M740.1 407.3h0M740.5 408.1h0M740.5 406h0M740.8 408.3h0M740.7 412.5h0M741.2 413.9h0M741.3 414.5h0M741.6 413.7h0M741.8 415.3h0M742.1 409.2h0M742.1 411.9h0M742 416.1h0M742.6 414.8h0M742.8 417.3h0M742.8 413.8h0M743.2 415.4h0M743.4 416.3h0M743.2 419.2h0M743.4 419.7h0M743.6 425.7h0M744.2 416.7h0M743.9 414.4h0M744.2 415.1h0M744.6 418.5h0M744.9 417.5h0M745 417.8h0M745.1 415.5h0M745.3 414.2h0M745.6 414.9h0M745.7 421.9h0M745.8 421.4h0M746 429.3h0M746.3 431.4h0M746.4 430.3h0M746.6 431.9h0M746.6 433.9h0M746.9 430.1h0M747.2 426.6h0M747.1 431.1h0M747.4 429.5h0M747.7 432.8h0M747.9 435.5h0M748 431.6h0M748.2 433.8h0M748.4 436.3h0M748.5 440.1h0M748.7 439.8h0M748.7 440.3h0M749.1 440.5h0M749.6 440.1h0M749.4 443.5h0M749.6 445.2h0M749.9 447.6h0M750.2 446.1h0M750.6 446.9h0M750.4 442.4h0M750.7 440.6h0M750.6 442.7h0M750.9 441.5h0M751.1 440.3h0M751.3 441.1h0M751.6 438h0M751.8 438.8h0M751.8 441h0M752.1 440.2h0M752.1 438h0M752.4 443.2h0M752.5 444.7h0M752.8 442.7h0M753.1 441.6h0M753.5 438.5h0M753.3 437h0M753.7 435.3h0M753.8 437.5h0M753.9 440.9h0M754 444.9h0M754.1 445.2h0M754.5 446.7h0M754.6 448.3h0M754.9 444.7h0M755.2 443.8h0M755 445.3h0M755.6 448.2h0M755.5 450h0M755.9 445.4h0M756 442.4h0M756.1 449.4h0M756.4 448.8h0M756.7 450.5h0M756.7 450.6h0M757.1 448.6h0M757.4 452.4h0M757.3 452.9h0M757.3 455.4h0M757.6 455.8h0M757.9 452.3h0M758.2 451.3h0M757.9 452.1h0M758.4 449.3h0M758.5 448.2h0M759 449.9h0M758.8 445.8h0M759.2 444.7h0M759.3 443.6h0M759.6 445.5h0M759.9 443.2h0M759.8 439.3h0M759.9 440.3h0M760.4 437.2h0M760.3 437.7h0M760.6 438.6h0M760.9 437.5h0M760.7 438.7h0M761.1 440.8h0M761.4 435.7h0M761.4 436.8h0M762 436h0M761.7 434h0M762.2 434.5h0M762.2 436.6h0M762.5 434.8h0M762.5 433h0M762.9 429h0M763.2 428.6h0M763.3 429.2h0M763.4 426.6h0M763.2 426.8h0M763.8 428.9h0M763.6 431.9h0M764.3 429.8h0M764.1 434.3h0M764.2 434.6h0M764.4 434.7h0M764.9 433.8h0M764.9 431.6h0M765.2 428.2h0M765.2 427.3h0M765.7 427.4h0M766 426.3h0M766 429.2h0M766 431.6h0M766.1 429h0M766.4 428.1h0M766.9 423.6h0M766.8 417h0M766.8 416.1h0M767.6 415.5h0M767.7 418.4h0M767.8 422.9h0M767.7 419.4h0M768.1 419.8h0M768 419.5h0M768.3 416.7h0M768.6 415.6h0M768.6 413.8h0M768.9 415h0M768.9 409.1h0M769.4 401.1h0M769.4 401.9h0M769.7 404h0M769.9 405.4h0M769.9 401.8h0M770.1 402.4h0M770.3 398.7h0M770.2 399.7h0M770.8 397.3h0M771.1 393.1h0M771.3 395h0M771.3 389.8h0M771.6 385.4h0M771.6 388.5h0M771.8 387.2h0M771.8 378.7h0M772.2 383.3h0M772.5 378.2h0M772.4 377.3h0M772.8 377.6h0M773.3 381.4h0M773.3 378.2h0M773.4 377.6h0M773.7 373.2h0M773.8 371.7h0M773.8 363.9h0M774.5 364.3h0M774.4 365h0M774.6 364.1h0M774.8 367h0M774.7 372.7h0M775 374.8h0M775.3 370.9h0M775.4 370.2h0M775.6 363.5h0M775.7 362.9h0M775.9 361.5h0M776.3 360.5h0M776.3 361.3h0M776.7 362.5h0M776.8 362.4h0M776.7 362.9h0M776.9 365.2h0M777.1 356.4h0M777.6 359.4h0M777.6 357.7h0M777.9 356.1h0M778.2 349.5h0M778.2 350h0M778.2 349.4h0M778.6 353.4h0M778.9 356.3h0M778.9 360.6h0M779.2 358.5h0M779.2 348.5h0M779.3 343.9h0M779.6 342.3h0M779.9 342.8h0M779.8 336.3h0M780.2 338.8h0M780.3 341.8h0M780.4 342.4h0M780.8 344.4h0M781.2 353.6h0M780.9 350.6h0M781.7 353.8h0M781.5 349.9h0M781.6 342.7h0M781.9 340.9h0M781.8 337.1h0M782.3 337.7h0M782.4 330.8h0M782.2 334.9h0M782.5 334.8h0M782.8 341.2h0M783.1 338.4h0M783.4 334.7h0M783.5 328.9h0M783.6 328h0M784 325.4h0M784.1 321.7h0M784.3 331.2h0M784.4 331.4h0M784.5 335.8h0M784.8 341h0M785.2 341.4h0M785.3 340.2h0M785.5 339.2h0M785.3 338.3h0M785.8 336.4h0M785.7 333.9h0M786.2 331.3h0M786.4 326.8h0M786.5 326.4h0M786.9 327h0M786.8 331h0M787.2 337.1h0M787.2 331.3h0M787.3 327.2h0M787.6 323.5h0M787.9 323.4h0M787.9 326.7h0M788.3 326.5h0M788.4 330h0M788.4 323.8h0M788.3 327.9h0M788.9 333.3h0M789.2 332.3h0M789.2 325.7h0M789.6 328.4h0M789.5 328.3h0M790 333.7h0M790.3 329.2h0M790.2 330.3h0M790.5 331h0M790.4 332.9h0M791 330.1h0M790.8 338.6h0M791.2 341.1h0M791.6 338.8h0M791.6 336.5h0M791.7 336.7h0M791.9 336.3h0M792 334.7h0M792.1 339.3h0M792.6 345.1h0M792.5 344.4h0M792.7 342.9h0M792.8 340.7h0M793.2 339.5h0M793.2 334.8h0M793.5 332.6h0M793.7 338.6h0M793.9 343.6h0M794 346.6h0M794.2 338.3h0M794.6 340.3h0M794.8 345h0M794.9 352.5h0M795.1 355.8h0M794.9 351.9h0M795.3 348.1h0M795.6 347.1h0M795.8 355.1h0M796 357.3h0M795.9 356.1h0M796.4 361.8h0M796.4 367.3h0M796.7 362h0M797.1 363.2h0M797.1 369.3h0M797.2 375.3h0M797.3 373.2h0M797.7 374.9h0M797.5 379.5h0M797.9 381h0M797.8 378.6h0M798.3 379.9h0M798.4 382.9h0M798.6 384.5h0M798.7 382h0M799.4 384.4h0M799.4 368.3h0M799.6 357.1h0M799.5 351.7h0M799.9 339.7h0M800 336.6h0M800.1 336.5h0M800.1 343.1h0M800.6 339.1h0M800.4 336.5h0M800.8 336.8h0M800.8 335.4h0M801.4 331h0M801.6 333.9h0M801.8 336.4h0M801.6 343.6h0M802.2 346.6h0M802.5 343.4h0M802.3 340.9h0M802.5 337.9h0M802.7 333.8h0M802.9 334.2h0M803.3 336.2h0M803.2 336.9h0M803.6 344.4h0M803.7 350.5h0M803.7 351.7h0M804.1 349.5h0M804.3 348.3h0M804.5 347.8h0M804.7 347.9h0M804.8 347.6h0M805.1 351.6h0M804.9 351.1h0M805.3 349.9h0M805.7 344.5h0M805.8 343.8h0M805.9 348.5h0M806 347h0M806.2 344.8h0M806.4 353.8h0M806.4 352.5h0M806.8 349.7h0M807 351.6h0M806.9 344.4h0M807.1 340.7h0M807.6 341.5h0M807.7 336.2h0M808.2 329.1h0M808.4 333.7h0M807.9 337.4h0M808.4 333.9h0M808.9 334.9h0M808.9 340.6h0M809.3 340.6h0M809.4 339.7h0M809.4 335.4h0M809.8 329.8h0M809.8 325.5h0M809.8 323.1h0M810.2 324.9h0M810.6 318.6h0M810.7 316.9h0M810.7 321.4h0M811.1 327.4h0M811.3 325.3h0M811.5 324.6h0M811.2 318.6h0M811.5 313.7h0M811.7 313.4h0M811.9 312h0M811.9 309.9h0M812.3 304.9h0M812.7 305.6h0M812.6 305.4h0M813.3 304.3h0M813 304.1h0M813.4 302.9h0M813.5 304.1h0M813.5 305.2h0M813.9 311.9h0M814.1 316.1h0M814.2 315.7h0M814.6 311.3h0M814.7 315.7h0M814.6 314.6h0M815.2 321.7h0M815 314.2h0M815.1 312.5h0M815.7 317h0M815.9 314.3h0M815.8 314.8h0M816.1 316h0M816.2 316h0M816.6 321.6h0M816.6 320.8h0M816.9 322.9h0M816.8 332.5h0M817.3 331.4h0M817.4 332.5h0M818 329.5h0M818 336.7h0M817.9 333.5h0M817.9 330.3h0M818.4 327.7h0M818.4 322.9h0M818.8 318.8h0M819 317.8h0M819.3 317.1h0M819.5 320h0M819.6 319.8h0M819.6 320.3h0M819.8 322.4h0M820 325.1h0M820.4 319.8h0M820.3 318.6h0M820.5 317.3h0M820.8 319h0M820.7 318.6h0M821 318.1h0M821.3 319.4h0M821.4 314h0M821.6 316.6h0M821.9 314.3h0M821.9 309h0M822.3 308.8h0M822.3 301.8h0M822.3 306.5h0M822.3 303.8h0M822.8 295.2h0M823.2 292.3h0M823.3 294h0M823.4 295h0M823.7 300.3h0M823.9 305.1h0M824 308.7h0M824.1 307h0M824.6 299.7h0M824.6 301.3h0M824.9 301.3h0M824.9 290.2h0M825.2 289.8h0M825.5 290.7h0M825.4 289.8h0M825.7 296.7h0M825.8 298.8h0M825.9 298h0M826.5 290.6h0M826.3 282.5h0M826.7 278.9h0M826.7 276.6h0M827 273.6h0M827.1 264.9h0M827.3 259.9h0M827.5 261.6h0M827.4 268.9h0M827.8 271.4h0M828.1 274h0M828.5 277.2h0M828.5 279.9h0M828.5 278.3h0M829 269.2h0M829.1 266.5h0M829 259.1h0M829.3 263.6h0M829.4 265h0M829.9 266.7h0M829.8 264.7h0M830 265.1h0M830.3 261.1h0M830.7 265.7h0M830.6 273h0M831 263h0M830.9 272.6h0M831.4 267.7h0M831.5 268.3h0M831.6 264.5h0M831.5 263.4h0M832.1 266h0M832.2 267.8h0M832.4 276.9h0M832.4 277.6h0M832.9 279.8h0M832.8 277.3h0M833.2 274.5h0M833.3 271.5h0M833.4 272.3h0M833.8 276.7h0M833.9 273.6h0M834.2 267.3h0M834.1 267.4h0M834.5 266h0M834.4 272.5h0M834.8 275.2h0M834.7 273.4h0M835.1 268.6h0M835.3 267.7h0M835.4 263.1h0M835.6 257.8h0M835.8 260.2h0M836.2 260.3h0M836.2 255.7h0M836.4 257.1h0M836.7 269.3h0M837 266.2h0M837.2 273.4h0M837.3 268.9h0M837.1 268.9h0M837.6 269.3h0M837.6 275.5h0M838 281h0M838 281.4h0M838.4 281.1h0M838.4 278.2h0M838.6 278.1h0M838.9 287.6h0M838.8 298h0M839.4 297.1h0M839.4 293.3h0M839.6 287.2h0M839.6 297.6h0M840.1 307.5h0M840 310.8h0M840.5 302.5h0M840.4 298.9h0M840.7 304.4h0M840.8 311.3h0M841.1 309.3h0M841.4 306.6h0M841.3 303.7h0M841.4 307.8h0M841.8 323.3h0M841.9 329h0M842.2 326.6h0M842.2 330h0M842.5 326.7h0M842.8 330.5h0M842.9 330.4h0M842.9 332h0M843.2 337.1h0M843.5 345.1h0M843.8 348.4h0M843.7 350.9h0M844 352.3h0M844.1 356.7h0M844.2 356.8h0M844.7 359.3h0M844.9 362.2h0M845 362.6h0M845.3 366.6h0M845.3 370.2h0M845.7 370.6h0M845.8 371.7h0M845.8 382.1h0M846 385.9h0M846 390.8h0M846.1 388.8h0M846.7 391.8h0M846.9 388.5h0M846.9 380.9h0M847.3 381.4h0M847.4 376.9h0M847.3 377.3h0M847.8 375.6h0M848 378.7h0M848.2 377.2h0M848.2 373.1h0M848.3 374.5h0M848.7 378.1h0M849 371.6h0M849.5 371.6h0M848.9 370.2h0M849.3 367.8h0M849.7 360.9h0M849.8 356.6h0M850.1 361.8h0M849.9 361.1h0M850.1 357.7h0M850.6 362.3h0M850.4 363.7h0M850.8 362.1h0M850.8 356.3h0M851.3 354.8h0M851.4 358.8h0M851.8 350.9h0M851.8 346.6h0M852.2 345.5h0M852.2 350.3h0M852.3 351.8h0M852.3 353h0M852.8 352.4h0M852.8 352h0M853.4 356.1h0M853.3 367.8h0M853.5 366.9h0M853.8 369.3h0M853.5 366.1h0M853.9 371.3h0M854.2 371h0M854.5 372.7h0M854.6 373.4h0M855 373.9h0M855.1 376.3h0M855.3 377h0M855.5 377.9h0M855.3 391.3h0M855.8 397.9h0M855.8 405.5h0M855.8 408.2h0M856.4 401h0M856.6 398.2h0M856.8 394h0M856.9 390.2h0M856.9 387.7h0M857.5 387.3h0M857.4 386.1h0M857.5 385.7h0M857.6 383.8h0M857.9 382.5h0M857.8 384.5h0M858.4 388.6h0M858.6 387.6h0M858.6 384.5h0M858.6 383.4h0M858.9 384.6h0M859.5 384.3h0M859.6 385.7h0M859.7 386.2h0M860 384.4h0M860.1 381.7h0M860.1 375.5h0M860.2 377.4h0M860.6 377.3h0M860.9 373.7h0M860.6 373.2h0M861.1 371.3h0M861.1 370.9h0M861.2 376.4h0M861.5 374.6h0M861.8 381.6h0M862 378.5h0M862.2 374.7h0M862.4 373.9h0M862.5 380.6h0M862.6 377.6h0M863.2 378.2h0M863.4 370.3h0M863.1 372.7h0M863.3 368.2h0M863.5 368.9h0M863.8 373.7h0M864 372.7h0M864.1 375.1h0M864.4 372.9h0M864.6 370.9h0M864.8 371.8h0M864.9 374h0M865.1 373h0M865.3 371.1h0M865.2 367.3h0M865.6 362.4h0M865.6 364.4h0M866.1 364.6h0M866.3 366.9h0M866.4 371.2h0M866.6 373.6h0M867.1 369.9h0M867.2 370.7h0M867.3 371.2h0M867.4 369.9h0M867.7 363.3h0M867.7 363.1h0M868 365h0M867.8 369.2h0M868.4 369.6h0M868.2 366.1h0M868.6 372h0M868.9 372.5h0M869.2 371.7h0M869.2 373.7h0M869.3 375.3h0M869.7 375.1h0M869.9 372.8h0M870 372h0M870.1 374.9h0M870.4 375.6h0M870.3 376.9h0M870.7 372.2h0M870.8 372.9h0M871.2 374.3h0M871.1 375.1h0M871.6 371.3h0M871.8 372.7h0M871.8 380.9h0M871.8 382h0M872.2 380.6h0M872.3 378.4h0M872.5 375.7h0M872.8 378.6h0M873 377.3h0M873.1 377.9h0M873 381.8h0M873.5 384.8h0M873.5 386.4h0M873.9 381.4h0M873.6 380.3h0M874 384h0M874.3 380.9h0M874.3 385h0M874.8 384.5h0M875 386.8h0M875.2 385.4h0M875.3 383.2h0M875.4 381.1h0M875.8 388h0M875.8 387.2h0M876.3 383.9h0M876.3 388.1h0M876.4 385.1h0M876.8 386.1h0M877 388.3h0M876.7 390.8h0M877.2 392.7h0M877.3 390.9h0M877.5 384.1h0M878 386.6h0M878.1 387.6h0M878.4 388.2h0M878.4 390.4h0M878.5 392.8h0M878.5 394.2h0M878.9 397.2h0M879.1 402h0M879.2 400.4h0M879.3 396.7h0M879.7 391.5h0M879.8 392.9h0M880.2 388.4h0M880 394.1h0M880.4 396.9h0M880.5 394h0M881 395.2h0M880.8 392.7h0M881 390.6h0M881.3 393.4h0M881.4 390.6h0M881.8 392.7h0M881.9 392.7h0M882 397.2h0M882.2 396.9h0M882 400.9h0M882.3 400.4h0M882.6 397.6h0M882.7 395h0M883.2 390.8h0M883.5 393.6h0M883.4 387.9h0M883.5 389.9h0M883.8 386.6h0M884.3 390.8h0M884.2 396.4h0M884.2 397.2h0M884.6 398.8h0M884.5 399.9h0M884.8 402.8h0M885.2 400.3h0M885.1 403.5h0M885.5 405.7h0M885.6 404.9h0M885.7 404.6h0M886.1 410.5h0M886.5 414.3h0M886.5 416.5h0M886.5 415h0M886.7 414.9h0M887.1 412.6h0M887.1 410.5h0M887.3 412.2h0M887.4 413.2h0M887.7 413.4h0M887.9 413.5h0M888 417.6h0M888.3 417.8h0M888.6 415.6h0M888.8 423.5h0M888.9 419.6h0M889.1 420.8h0M889.3 419.1h0M889.3 422.6h0M889.7 423.5h0M889.5 427h0M890 426.3h0M890 424.2h0M890.3 428.6h0M890.7 427.7h0M890.8 427.2h0M891.1 425.7h0M890.6 423.5h0M891.4 425.4h0M891.4 430.2h0M891.8 433.1h0M891.7 432.5h0M892 433.1h0M892 432.8h0M892.3 430.5h0M892.3 434h0M892.7 432.4h0M892.8 426.1h0M893 428.2h0M893.5 425.5h0M893.3 427h0M893.8 428.6h0M893.8 426.6h0M894 426.8h0M894.2 429.7h0M894.3 425.2h0M894.9 421.2h0M894.6 422h0M894.9 422.9h0M895.1 428.8h0M895.5 430.3h0M895.6 429.1h0M895.7 427.3h0M895.8 421h0M896.1 419h0M896.4 420.6h0M896.6 422.8h0M896.4 423.8h0M896.4 425.2h0M897.1 428.1h0M897.2 426.2h0M897.4 425.9h0M897.4 423.8h0M897.8 427.8h0M898 423.6h0M898.3 426.6h0M898.6 429h0M898.5 424h0M898.7 424.6h0M898.8 429.4h0M899 426.7h0M898.8 425.8h0M899.3 426.4h0M899.5 429.9h0M900 430.7h0M900 428.4h0M900 425.4h0M900.2 421.5h0M900.4 423.3h0M900.5 418.9h0M900.9 418.8h0M901.2 422.4h0M901.2 419.8h0M901.1 420.3h0M901.6 420.6h0M901.9 422.8h0M901.9 421h0M901.9 421.9h0M902.3 423.1h0M902.8 423.7h0M902.7 420.2h0M903 422.2h0M902.9 395.5h0M903.3 395.5h0M903.3 392h0M903.7 396.6h0M903.5 395.5h0M903.7 400.7h0M904.5 396h0M904.3 393.2h0M904.7 396h0M904.6 393.9h0M905 392.9h0M904.9 395.2h0M905.1 393h0M905.6 389.5h0M905.7 388.1h0M905.5 390.8h0M905.9 390.8h0M906.2 393.8h0M906.6 391.3h0M906.6 388.6h0M906.8 385.3h0M906.7 385.7h0M907.3 384.4h0M907.5 384.5h0M907.2 383h0M907.7 383.1h0M907.4 384.4h0M908 388.6h0M908.1 387.4h0M908.5 386.2h0M908.4 389.7h0M908.9 393.1h0M908.8 390.5h0M909.1 389.2h0M909.2 384h0M909.4 379.8h0M909.9 381.9h0M909.9 386.5h0M910.3 391.4h0M910.2 391.7h0M910.5 388.4h0M910.8 388.3h0M910.8 382.6h0M910.9 382.2h0M911 377.6h0M911.3 376.7h0M911.7 380.6h0M911.8 384.5h0M911.9 381.6h0M912.2 379.5h0M912.4 371.8h0M912.6 369.1h0M912.5 373.1h0M912.7 375.2h0M913.3 375.7h0M913.2 374.3h0M913.5 376.6h0M913.5 373.8h0M913.6 373.4h0M913.8 382.2h0M914.3 378h0M914.3 379.2h0M914.7 378.8h0M914.8 383.6h0M914.7 382.6h0M914.9 383.4h0M915.3 383.2h0M915.7 386.3h0M915.7 382.7h0M915.5 378.9h0M916.1 382.1h0M916.1 383.1h0M916.4 386.2h0M916.7 386.1h0M916.6 385.3h0M917.1 387.9h0M917.1 389.7h0M917.1 393.1h0M917.6 393.5h0M917.5 388.3h0M917.7 389.6h0M917.9 390.7h0M918.3 392h0M918.6 393.5h0M918.5 392.5h0M919.1 395.7h0M918.9 393.8h0M130.5 58.5h0M130.5 67.5h0M153.2 75.5h0M158.5 49h0M161.5 66h0M158.6 64h0M161.4 63.5h0M791.2 299.6h0M791.2 311h0M808.4 308.4h0M786.5 321h0M565.6 402h0M565.6 409h0M565.6 417h0M120.5 187h0M120.5 184h0M121.5 177h0M120.5 167.5h0M134.5 165.5h0M150 159h0" stroke="#000" stroke-width="5.6" stroke-linecap="round" fill="none"/>
<path d="M119.4 126.2 120.7 119.3 122 116.4 123.3 113.1 124.6 112.1 125.9 105.8 127.2 108.2 128.5 105 129.8 108.5 131.1 109.6 132.4 112.4 133.7 107.9 135 109.4 136.3 110.5 137.6 114.5 138.9 114.6 140.2 118.7 141.5 123.8 142.8 130.3 144.1 133.7 145.4 130.4 146.7 131.6 148 130 149.3 128.5 150.6 128.5 151.9 126.3 153.2 126.3 154.5 124.8 155.8 124.9 157.1 125 158.4 123.2 159.7 124.2 161 128.2 162.3 132.7 163.6 131.9 164.9 131.1 166.2 133.4 167.5 136.1 168.8 134.6 170.1 130.9 171.4 130.5 172.7 128.5 174 125.8 175.3 127.6 176.6 131.7 177.9 136.8 179.2 141.8 180.5 147.8 181.8 149.5 183.1 156.2 184.4 162.7 185.7 169.8 187 179.7 188.3 192.3 189.6 200.3 190.9 204.4 192.2 207.9 193.5 211.1 194.8 213.3 196.1 216.8 197.4 217.9 198.7 222.5 200 223.9 201.3 225.2 202.6 228.2 203.9 229.8 205.2 234.8 206.5 239.9 207.8 246.5 209.1 248.4 210.4 253.2 211.7 256.8 213 260.2 214.3 263.6 215.6 265.5 216.9 265.6 218.2 270.3 219.5 275.4 220.8 278.7 222.1 283.1 223.4 286 224.7 289.9 226 294.2 227.3 298.4 228.6 302.6 229.9 307.7 231.2 312.1 232.5 318.4 233.8 323.3 235.1 329.6 236.4 334.9 237.7 336.6 239 336.7 240.3 337.1 241.6 339 242.9 339.4 244.2 339.6 245.5 340.8 246.8 340.8 248.1 343.1 249.4 342.6 250.7 345.3 252 345.2 253.3 346.2 254.6 344.8 255.9 346.2 257.2 346.8 258.5 345 259.8 345.7 261.1 342.7 262.4 337.3 263.7 335.2 265 332.2 266.3 326.7 267.6 324.5 268.9 322.5 270.2 325.2 271.5 324.7 272.8 329 274.1 326.6 275.4 324 276.7 324.1 278 329.9 279.3 334.2 280.6 333.5 281.9 340.1 283.2 343.8 284.5 343.6 285.8 340 287.1 340.3 288.4 337.2 289.7 334.8 291 332.1 292.3 332.1 293.6 330.1 294.9 326.2 296.2 325.2 297.5 321.1 298.8 321 300.1 318.2 301.4 319.5 302.7 321.3 304 324 305.3 321.4 306.6 318.8 307.9 316 309.2 313.6 310.5 311.6 311.8 308.4 313.1 306 314.4 302.1 315.7 297 317 301.1 318.3 303.7 319.6 303.1 320.9 301.7 322.2 299.9 323.5 299.8 324.8 302.3 326.1 303.3 327.4 306.4 328.7 310.4 330 318.3 331.3 322.5 332.6 322.4 333.9 320.7 335.2 321.1 336.5 319.3 337.8 320.6 339.1 315.4 340.4 316.1 341.7 317.1 343 318.3 344.3 314.6 345.6 314.2 346.9 315.8 348.2 320.4 349.5 321.6 350.8 323.9 352.1 323.1 353.4 322.3 354.7 324.3 356 322.8 357.3 321.5 358.6 317.7 359.9 314.9 361.2 314 362.5 313 363.8 315 365.1 316.6 366.4 319.9 367.7 321 369 324.3 370.3 325.1 371.6 326.2 372.9 327.5 374.2 334.7 375.5 339.1 376.8 343.9 378.1 348.1 379.4 346 380.7 346.9 382 344.9 383.3 347.2 384.6 343.1 385.9 342.1 387.2 341.2 388.5 340.9 389.8 339.6 391.1 341.9 392.4 339.4 393.7 340.9 395 346.2 396.3 346.4 397.6 346 398.9 348.7 400.2 348.3 401.5 344.5 402.8 343.9 404.1 340 405.4 339.8 406.7 336.8 408 336.1 409.3 333.7 410.6 334.5 411.9 340.9 413.2 340 414.5 342.7 415.8 344.5 417.1 347.5 418.4 350.3 419.7 352.7 421 356.8 422.3 362.1 423.6 364.1 424.9 365.5 426.2 365.1 427.5 365.2 428.8 363.6 430.1 366 431.4 365.2 432.7 366 434 367 435.3 366.8 436.6 368.7 437.9 371.6 439.2 375 440.5 377.4 441.8 383.4 443.1 382.8 444.4 386.1 445.7 387.9 447 386.7 448.3 393 449.6 390.6 450.9 388.4 452.2 391.2 453.5 389.1 454.8 388.5 456.1 390.6 457.4 395.3 458.7 397.4 460 402.9 461.3 404.5 462.6 409.3 463.9 414.6 465.2 417.8 466.5 422.4 467.8 427.9 469.1 432.2 470.4 439.4 471.7 443.3 473 443.6 474.3 444.9 475.6 444.1 476.9 445.2 478.2 445.7 479.5 448.9 480.8 445.9 482.1 446.4 483.4 442.7 484.7 441.8 486 441.1 487.3 441.9 488.6 444.9 489.9 448.9 491.2 446.9 492.5 444.8 493.8 441.1 495.1 441.3 496.4 440 497.7 439.2 499 437.3 500.3 433.1 501.6 430.8 502.9 431.1 504.2 434 505.5 436.5 506.8 436.6 508.1 438.1 509.4 439.1 510.7 434.5 512 439.1 513.3 444.2 514.6 450.1 515.9 457.4 517.2 459.8 518.5 458 519.8 458.3 521.1 455.8 522.4 456.6 523.7 454.6 525 454.5 526.3 451 527.6 453.7 528.9 450 530.2 448.6 531.5 446.8 532.8 445.1 534.1 444.2 535.4 446.8 536.7 447.9 538 450.9 539.3 450.6 540.6 449.8 541.9 447.8 543.2 443.7 544.5 443.6 545.8 440 547.1 439.6 548.4 436.9 549.7 435.7 551 434.4 552.3 437.3 553.6 441 554.9 439.3 556.2 437.8 557.5 437.9 558.8 440.7 560.1 446.8 561.4 454.2 562.7 461.4 564 464.9 565.3 466.5 566.6 464.7 567.9 463.6 569.2 462.1 570.5 461.1 571.8 461.2 573.1 458.9 574.4 460.7 575.7 460 577 458.2 578.3 459.2 579.6 458.7 580.9 460.1 582.2 462.1 583.5 462.9 584.8 463.9 586.1 463.3 587.4 461.2 588.7 460.7 590 455.4 591.3 455.9 592.6 453.3 593.9 452.5 595.2 450.8 596.5 448.7 597.8 453.8 599.1 455 600.4 456.2 601.7 457.1 603 460.6 604.3 461.3 605.6 465.9 606.9 468.1 608.2 474.1 609.5 475.2 610.8 478.4 612.1 480.1 613.4 478.3 614.7 475.5 616 471.8 617.3 471.1 618.6 470.4 619.9 467.8 621.2 466.2 622.5 464.5 623.8 462 625.1 460.7 626.4 458.1 627.7 463.7 629 463.6 630.3 466.1 631.6 462.5 632.9 462.5 634.2 457.5 635.5 458 636.8 454.4 638.1 454.1 639.4 447.8 640.7 446.7 642 444.4 643.3 443.8 644.6 443.9 645.9 446.4 647.2 445.4 648.5 445.6 649.8 445.7 651.1 449.2 652.4 451.3 653.7 457.4 655 460.4 656.3 461.7 657.6 462.3 658.9 462.9 660.2 462.4 661.5 462.9 662.8 460.3 664.1 456.1 665.4 456.5 666.7 456.7 668 452.4 669.3 450 670.6 451 671.9 446.8 673.2 444.9 674.5 448.9 675.8 451.6 677.1 449.9 678.4 449.7 679.7 447.7 681 445.4 682.3 442.3 683.6 441.1 684.9 437.1 686.2 435.1 687.5 433.1 688.8 430.3 690.1 432.3 691.4 432.4 692.7 431.6 694 433.7 695.3 435.2 696.6 432 697.9 431.5 699.2 433.1 700.5 438.4 701.8 440.1 703.1 445.7 704.4 447.3 705.7 451.9 707 449.4 708.3 445.9 709.6 445.9 710.9 441.7 712.2 439.7 713.5 438.8 714.8 434.7 716.1 432.1 717.4 429.8 718.7 426.5 720 426.1 721.3 427 722.6 427.5 723.9 428.8 725.2 427.3 726.5 426.4 727.8 423.1 729.1 419.1 730.4 416.4 731.7 411.3 733 407.5 734.3 406.2 735.6 400.1 736.9 397.6 738.2 394.1 739.5 392.7 740.8 392.8 742.1 389.6 743.4 389.7 744.7 388.5 746 389.4 747.3 391.5 748.6 393.8 749.9 395.3 751.2 398.5 752.5 397 753.8 392.1 755.1 385.9 756.4 382.3 757.7 377.9 759 373.7 760.3 372.3 761.6 367.7 762.9 366.6 764.2 366.8 765.5 362.4 766.8 363.6 768.1 367.4 769.4 368.1 770.7 371.6 772 368.5 773.3 366.8 774.6 365.4 775.9 365.2 777.2 363.6 778.5 362.4 779.8 359.2 781.1 358 782.4 356.9 783.7 356.8 785 358.4 786.3 358.6 787.6 360.5 788.9 358.5 790.2 358.2 791.5 362.2 792.8 364.9 794.1 369 795.4 373.2 796.7 375.2 798 380 799.3 384.5 800.6 382 801.9 380 803.2 379 804.5 375.4 805.8 375.6 807.1 375.3 808.4 374.3 809.7 370.5 811 370 812.3 369.6 813.6 367.7 814.9 370.4 816.2 374.5 817.5 374.5 818.8 371.4 820.1 372.3 821.4 369.9 822.7 368 824 365.1 825.3 365.8 826.6 360.1 827.9 358.5 829.2 357.9 830.5 360.3 831.8 362.5 833.1 361.9 834.4 363.3 835.7 361.1 837 363.1 838.3 363.6 839.6 368.3 840.9 372.9 842.2 375.1 843.5 380.7 844.8 381.8 846.1 384.9 847.4 384.1 848.7 381.7 850 382.1 851.3 379.8 852.6 376.1 853.9 380.8 855.2 375.8 856.5 373.8 857.8 370.8 859.1 371 860.4 370.2 861.7 373.7 863 375.7 864.3 378.7 865.6 375.1 866.9 373.8 868.2 372 869.5 369.8 870.8 368.1 872.1 367.7 873.4 365.7 874.7 362.4 876 360.1 877.3 360.4 878.6 363.7 879.9 364.3 881.2 367.9 882.5 365.1 883.8 366.2 885.1 363.5 886.4 369.5 887.7 373.8 889 378.6 890.3 384.1 891.6 386.5 892.9 390.1 894.2 388.1 895.5 387.2 896.8 384.4 898.1 385.3 899.4 381.4 900.7 381.9 902 379.2 903.3 378.6 904.6 376.4 905.9 376.4 907.2 376.7 908.5 377.9 909.8 378.3 911.1 380 912.4 376.8 913.7 375.6 915 376.2 916.3 376.3 917.6 374.5 918.9 372.6" stroke="#0072B2" stroke-width="2.08" fill="none" stroke-linejoin="round" stroke-linecap="square"/>
<path d="M920 371 L921 367 L923 363 L925 366 L927 370 L929.2 373 L929.2 401 L925 399 L920 398Z" fill="#0072B2" stroke="#0072B2" stroke-width="1"/>
<path d="M922.9 387.3h0M922.6 389.5h0M923.2 392h0M923.6 394.5h0M922.8 395.5h0" stroke="#e8141c" stroke-width="5.8" stroke-linecap="round" fill="none"/>
</g>
<rect x="79.5" y="15.5" width="889.0" height="527.0" fill="none" stroke="#000" stroke-width="1.11"/>
<path d="M126.50 542.5v4.86M219.50 542.5v4.86M313.50 542.5v4.86M406.50 542.5v4.86M500.50 542.5v4.86M593.50 542.5v4.86M687.50 542.5v4.86M780.50 542.5v4.86M874.50 542.5v4.86M967.50 542.5v4.86M79.5 483.50h-4.86M79.5 421.50h-4.86M79.5 359.50h-4.86M79.5 297.50h-4.86M79.5 235.50h-4.86M79.5 173.50h-4.86M79.5 111.50h-4.86M79.5 49.50h-4.86" stroke="#000" stroke-width="1.11" fill="none"/>
<text x="125.30" y="562" text-anchor="middle">2009</text>
<text x="218.69" y="562" text-anchor="middle">2011</text>
<text x="312.60" y="562" text-anchor="middle">2013</text>
<text x="406.29" y="562" text-anchor="middle">2015</text>
<text x="499.31" y="562" text-anchor="middle">2017</text>
<text x="593.19" y="562" text-anchor="middle">2019</text>
<text x="686.71" y="562" text-anchor="middle">2021</text>
<text x="780.20" y="562" text-anchor="middle">2023</text>
<text x="874.11" y="562" text-anchor="middle">2025</text>
<text x="967.05" y="562" text-anchor="middle">2027</text>
<text x="70.2" y="488.00" text-anchor="end">500</text>
<text x="70.2" y="426.04" text-anchor="end">1000</text>
<text x="70.2" y="364.07" text-anchor="end">1500</text>
<text x="70.2" y="302.11" text-anchor="end">2000</text>
<text x="70.2" y="240.14" text-anchor="end">2500</text>
<text x="70.2" y="178.18" text-anchor="end">3000</text>
<text x="70.2" y="116.21" text-anchor="end">3500</text>
<text x="70.2" y="54.25" text-anchor="end">4000</text>
<text x="524.5" y="581.5" text-anchor="middle">ds</text>
<text transform="translate(25.3 279) rotate(-90)" text-anchor="middle">y</text>
</svg></body></html>
